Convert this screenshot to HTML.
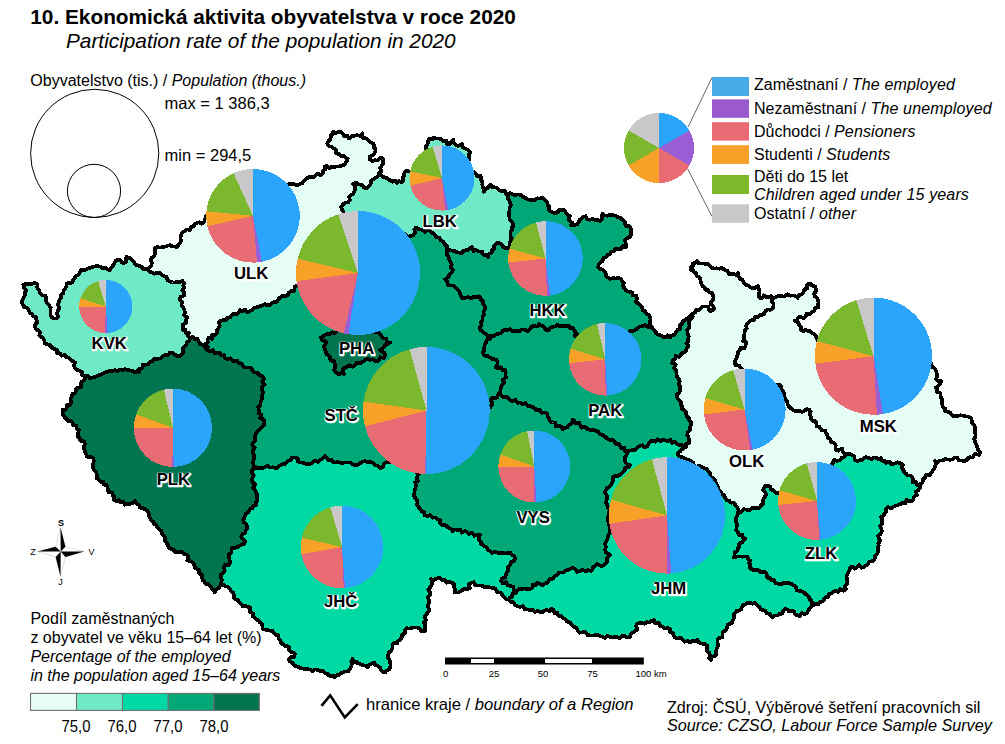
<!DOCTYPE html>
<html><head><meta charset="utf-8">
<style>
html,body{margin:0;padding:0;background:#fff;}
body{width:1005px;height:744px;overflow:hidden;position:relative;font-family:"Liberation Sans",sans-serif;color:#000;}
svg{position:absolute;left:0;top:0;}
.t{position:absolute;white-space:nowrap;line-height:1;}
svg text{font-family:"Liberation Sans",sans-serif;}
.lab text{font-weight:bold;font-size:16.7px;text-anchor:middle;fill:#000;}
.lab text.h{fill:#fff;stroke:#fff;stroke-width:2.6px;stroke-linejoin:round;}
.lg i{letter-spacing:0.15px;}
</style></head><body>
<svg width="1005" height="744" viewBox="0 0 1005 744">
<g id="map">
<path d="M85 376 L82.3 375.5 L82 372.1 L79.9 370.8 L77.5 370 L75.1 368.5 L74 366 L75 362.5 L72.8 361.1 L70.5 359.9 L68.7 357.9 L66.2 357 L64.7 355 L61.5 355.8 L60.2 353.4 L57.2 353.2 L56.9 349.5 L54.2 348.9 L51.8 347.6 L50.2 345.2 L47.4 344.4 L44.6 343.6 L44.3 340.8 L43.5 338.3 L41.4 336.9 L39.3 335.5 L40 332.2 L38.5 330.4 L36.1 329.3 L35 326.5 L35.5 324 L37.6 321.8 L36.4 319.9 L36.2 317.2 L33.3 316.5 L32.3 314.4 L29.8 312.7 L28.6 310 L27 307.6 L24.1 307 L22.9 304.7 L21.8 302.3 L22.6 299.9 L23.8 297.8 L24.8 295.5 L24.7 292.6 L26.3 290.2 L24 288 L23.3 284.9 L25.4 283.7 L27.8 284.3 L30 284.2 L32.6 283.6 L35.1 282.8 L37.6 284.5 L37.2 287.6 L39.1 290.2 L39.7 292.1 L40.6 293.9 L42.3 295.6 L45.2 295.5 L46.6 297.7 L45.8 300.7 L47 303.1 L48.9 305.2 L50.7 307.5 L50.5 310.2 L50.4 312.8 L50.4 315.3 L51.9 317.3 L54 318.6 L56.4 318.5 L58.2 316.3 L56.9 313.7 L57.5 311.3 L58.9 309.2 L58.7 306.8 L57.7 304.4 L58.7 302.2 L59.7 299.8 L61.4 297.6 L60.9 294.7 L63.2 293.3 L63.6 290.6 L65.1 288.6 L66.2 286.4 L66.9 283.7 L69 282.7 L72 282.7 L73 280.4 L74.6 278.4 L75.7 276.1 L78.3 275.1 L79.9 272.5 L81.3 269.8 L83.9 270 L86.4 269.4 L88.8 268.3 L91.5 267.2 L94.3 266.6 L97.1 266.1 L99.9 266.6 L102.5 268 L105.4 267.6 L107.6 269.2 L109.9 270.6 L111.1 267.9 L112.9 265.6 L114.4 263.1 L115.7 260.7 L117.7 259.7 L120.4 260.1 L121.4 262.1 L123.4 263.1 L125.9 261.8 L125.7 259.2 L126.4 257 L128.5 257.8 L130.8 258.3 L132.1 260.5 L134 261.6 L135 264.4 L137.4 265.3 L140 266.1 L141.9 267.2 L143.5 269.1 L146 269 L148.2 270.1 L150.1 271.8 L152.5 272.5 L154.6 273.7 L157.5 272.7 L159.9 273 L161.8 274.9 L164 276 L166.6 277 L167.6 280.1 L170 281.4 L172.5 282.5 L175.1 282.5 L177.5 281.9 L180.1 281.9 L182.5 281 L184 283.1 L183.3 285.6 L184.5 287.8 L182.3 290.4 L184 292.5 L184 295.7 L180.4 297 L180 300 L182.3 302 L181.4 305.2 L183.5 307.3 L184.3 309.9 L185 312.5 L184.2 315.2 L187.3 317.3 L186 320 L186.5 323 L182.9 324.5 L183.3 327.5 L182.5 330 L185.2 329.5 L186.2 333.2 L189 332.5 L188 335.5 L190 338 L189.4 340.7 L186.8 342.4 L186 345 L184.3 346.9 L182.6 348.8 L183.3 352.1 L182 354.2 L180 356 L177 355.9 L174.6 354.5 L172.5 352.5 L169.7 352.6 L167.9 355.4 L165 355 L162.9 355.9 L161.3 357.9 L159.1 358.6 L156.8 359.2 L154.1 359 L152.5 361 L149.9 361.7 L148.1 364.5 L145.3 364.7 L142.5 365 L142.4 367.9 L139 369.1 L139 372 L136.9 371.2 L135 372.5 L132.7 371 L130.2 370.4 L127.7 370.2 L125.3 369 L122.5 370 L119.9 369.4 L117.6 371.5 L114.8 369.9 L112.5 371.5 L109.9 370.9 L107.5 371.9 L105 372.5 L102.6 373.7 L100.2 374.9 L97.6 375.7 L95.2 377.1 L92.5 377.5 L89.7 378.3 L87.7 375.4 L85 376Z" fill="#70eac6"/>
<path d="M146 269 L149.1 268.1 L151.1 266.1 L152 263 L151 260.2 L151.6 257.7 L154.6 255.7 L154.8 253.2 L155.1 250.6 L155 248 L157.3 247 L159.9 247.6 L162.3 247.2 L164.6 246.7 L167 246 L169.6 245.1 L172 246.3 L174.5 246.4 L177 247 L178.5 244.9 L180.3 242.9 L180.9 240.5 L180.5 237.7 L181 235.3 L182 233 L184.4 231.3 L186.8 229.5 L190 230 L190.6 227.1 L193.4 226.4 L194.8 224.3 L197 223 L199.3 222.3 L201.9 223.7 L204 222 L204.7 220 L205.5 218.1 L206 216 L207.9 214.2 L209.8 212.5 L212.5 212.5 L215 212 L215.9 209.4 L218.5 208.5 L221.4 207.9 L222 205 L224.4 204.7 L225.9 202.3 L229 203.7 L231 202.6 L233.1 201.6 L235 200 L238 200.5 L240.5 199.3 L243.1 198.5 L245.3 196.3 L248 196 L250.8 196.9 L253.1 196.2 L254.7 192.9 L257.6 194.2 L259.9 193.4 L262 192 L264.6 191.3 L267.2 190.9 L269.8 190.2 L272.7 191 L275 189 L277.3 188.2 L280 188.4 L281.8 186 L284.8 186.9 L287.1 186.1 L289 184 L291.8 183.9 L294.5 184.2 L297.2 185.4 L300 184 L302.5 183 L304 180.8 L306 179.3 L308.1 177.5 L310.6 176.9 L313.5 177.2 L315.7 175.6 L317.8 173.7 L321 175.3 L323 173.2 L322.8 170.8 L325.5 169.2 L324.8 166.6 L327 166 L329.2 168.2 L331.4 166.6 L333.8 167.3 L336.3 166.6 L338.7 166.6 L340.7 165.8 L342.9 165.4 L344.7 164.1 L346.5 161.5 L347.8 158.7 L345.3 157.7 L343.5 155.7 L340.8 155.8 L338.7 154.1 L336.3 153.3 L336.4 150.2 L333.9 148.4 L331.6 146.8 L329 146 L327.3 143.8 L328.4 141.2 L330.6 138.9 L330.8 135.7 L332.7 134 L333.3 131.5 L335.2 133.2 L337.5 132.1 L340.5 132 L342.9 133.9 L344.2 136 L347.5 135.5 L348.4 138.1 L350.6 137.8 L352.1 135.8 L354.4 135.7 L357.5 135.1 L360.5 136.3 L362.3 133.3 L361.7 136 L363.5 138.1 L366.9 138.5 L368.9 141.2 L371.3 142.8 L373.8 144.2 L373.6 147 L375.6 149 L375.4 151.4 L374.5 153.5 L372.6 155.1 L370 156.4 L369.5 159.3 L372.6 161.1 L374.5 160.2 L376.8 160.6 L378.6 159.3 L380.5 157.4 L382.8 158.7 L382.9 161.2 L383.1 163.7 L381.6 165.9 L380.2 168.1 L381.3 171.2 L379.2 173.2 L378.6 175.6 L377.1 177.2 L375 178 L373.2 179.3 L371.3 180.5 L370.7 183.3 L369.5 185.9 L367.8 187.3 L365.9 188.3 L363.9 187.4 L362.6 185.5 L360.5 184.7 L358.3 184.5 L356.8 182.9 L354.9 183.1 L353.2 184.1 L355.4 185.6 L355 187.9 L355 190.1 L354 192.1 L353.1 194.2 L350.8 195 L349.2 197.1 L349.8 200 L348.4 202.2 L345.3 202.5 L342.9 204.6 L341.1 207.1 L342.3 210 L343.8 212.3 L342.4 215.3 L343.3 217.8 L345 220 L346.3 222.4 L349.7 222.9 L350.4 225.9 L352 228 L349.2 228.7 L348.4 231.4 L346.4 232.9 L345 235 L344.1 237.8 L340.8 238.3 L340.2 241.4 L337 242 L335 243.7 L333.4 245.9 L333 249.2 L330 250 L327.6 251.3 L327 254 L325.2 255.8 L324.1 258.1 L323.4 260.7 L320.9 261.9 L318.3 263.1 L317 265.2 L315.4 267.2 L315 270 L314.1 272.8 L311.2 273.7 L308.9 275.1 L308 278 L306.1 279.8 L304.8 282.3 L301.1 282.3 L300 285 L297.1 285.5 L294.7 286.6 L294.3 290.8 L291.2 291 L289 292.5 L287.6 295.2 L285.1 296.1 L282.1 296 L280 297.5 L278.3 299.4 L276.9 301.7 L274.1 302.2 L271.7 303.1 L270 305 L267.5 305.5 L264.9 304.1 L262.5 305.5 L260 306 L257.4 307.1 L254.6 307.7 L252.5 309.8 L250 311 L247.4 312.2 L245.1 309.6 L242.4 311.3 L240 310 L238.8 312.5 L236.7 314 L233.4 313.8 L231.5 315.4 L230 317.5 L227.5 317.8 L225.9 320.1 L223.2 320 L220.8 320.7 L219 322.5 L219.8 325.5 L218.6 327.9 L217.2 330.2 L217 332.9 L215 335 L212.2 334.9 L212.2 338.9 L208.7 337.8 L207.5 340 L207.9 342.4 L205.1 344.2 L207.9 347 L206 349 L204.9 346.5 L203.2 344.5 L199.8 344 L198.8 341.3 L197.5 339 L194.9 339.3 L192.7 337 L190 338 L188 335.5 L189 332.5 L186.2 333.2 L185.2 329.5 L182.5 330 L183.3 327.5 L182.9 324.5 L186.5 323 L186 320 L187.3 317.3 L184.2 315.2 L185 312.5 L184.3 309.9 L183.5 307.3 L181.4 305.2 L182.3 302 L180 300 L180.4 297 L184 295.7 L184 292.5 L182.3 290.4 L184.5 287.8 L183.3 285.6 L184 283.1 L182.5 281 L180.1 281.9 L177.5 281.9 L175.1 282.5 L172.5 282.5 L170 281.4 L167.6 280.1 L166.6 277 L164 276 L161.8 274.9 L159.9 273 L157.5 272.7 L154.6 273.7 L152.5 272.5 L150.1 271.8 L148.2 270.1 L146 269Z" fill="#e6fdf5"/>
<path d="M378.6 175.6 L380.9 175.3 L382.6 176.9 L384.6 177.4 L386.8 178 L388.5 179.8 L390.7 180.5 L392.5 181.7 L395.2 180.7 L396.7 182.9 L398.9 181 L401.6 182.3 L403.5 180.5 L402.4 177.6 L404 175.6 L404.4 172.8 L406.4 170.8 L409.4 171.4 L412.6 171.5 L414.2 168.6 L417.2 168.3 L419 166 L420.1 164 L421.8 162.2 L421.6 159.4 L424.2 158.2 L425 156 L426.4 153.8 L425.5 151.3 L426.4 149 L425.8 146.6 L427.5 144 L428.2 141 L429.4 138.6 L432.4 139.6 L433.9 137.7 L436.2 138.4 L438.7 138.5 L441.4 139.2 L443.5 141 L446.4 140.6 L447.3 144.2 L450 144.2 L451.5 141.7 L453.2 139.4 L453.7 142.5 L455.6 145 L457.9 146 L460 145.2 L462.1 144.2 L463 147.5 L466.1 149 L468.4 150.4 L470.2 152.3 L468.8 155 L469.4 157.9 L468.8 160 L466.4 161.4 L467 164 L466.4 166.7 L469.6 168.3 L469 171 L471.8 170.9 L473.9 172.1 L475.8 174 L477.7 176.3 L480.6 175.6 L481.2 177.8 L481 180.1 L482.5 182.1 L482.3 184.5 L482.8 186.9 L483.7 189.3 L483.9 191.8 L485.1 189.6 L487.3 188.3 L488.9 186.5 L490.3 184.5 L491.9 186.8 L494.4 187.2 L496.8 187.7 L498.9 190.1 L501.7 191 L504.8 191 L506 194 L508 195.7 L507.5 198.5 L509.5 200.1 L510 202.5 L510.8 205.1 L509.6 207.5 L509.4 210 L509.3 212.5 L509 215 L509.5 217.5 L509.8 220 L511.7 221.6 L512.9 223.6 L513.4 226 L511.8 227.7 L511.9 230.3 L510.4 232.1 L510.4 234.6 L510.7 237.1 L512.2 239.3 L510.4 241.2 L509.5 243.4 L510.4 246 L509.5 247.9 L507.4 248.4 L504.6 248 L502.6 246 L500.6 243.6 L497.7 242.4 L495.7 244 L494.1 246 L494.3 248.5 L491.9 250.2 L491.7 252.6 L488.9 253.9 L488 256.9 L486.7 255 L484.4 255.1 L482.4 253.8 L482 251.4 L478.9 251.5 L476 250.2 L473.4 251 L472.5 247.1 L469.9 247.8 L468.6 249.8 L466.3 250.2 L463.4 251.1 L461.4 253.3 L459 252.5 L456.6 252 L454.7 251.1 L452.6 250.7 L450.6 250.2 L447 249.5 L447 246.2 L444.5 244.2 L443.4 241.8 L440.9 240.4 L439.7 238.1 L436.5 237.3 L434.8 234.5 L432.3 232.9 L430 231 L427.6 229.7 L424.8 231.9 L422.5 230 L420.3 229.4 L417.9 229 L416 227.5 L414.3 229.8 L415 232.5 L413.2 235.3 L410 236 L407.4 236.9 L405.1 234.3 L402.4 237.3 L400 235.2 L397.4 236.9 L394.9 236.4 L392.5 234.5 L390 235 L387.5 234.6 L385.1 233.4 L382.4 234.7 L380.1 233.1 L377.7 231.5 L375.2 231.4 L372.4 232.9 L370 232 L367.3 232.1 L364.7 231.7 L362.4 229.6 L359.4 231.2 L356.9 230.2 L354.6 228.6 L352 228 L350.4 225.9 L349.7 222.9 L346.3 222.4 L345 220 L343.3 217.8 L342.4 215.3 L343.8 212.3 L342.3 210 L341.1 207.1 L342.9 204.6 L345.3 202.5 L348.4 202.2 L349.8 200 L349.2 197.1 L350.8 195 L353.1 194.2 L354 192.1 L355 190.1 L355 187.9 L355.4 185.6 L353.2 184.1 L354.9 183.1 L356.8 182.9 L358.3 184.5 L360.5 184.7 L362.6 185.5 L363.9 187.4 L365.9 188.3 L367.8 187.3 L369.5 185.9 L370.7 183.3 L371.3 180.5 L373.2 179.3 L375 178 L377.1 177.2 L378.6 175.6Z" fill="#70eac6"/>
<path d="M506 194 L508.3 193.4 L510.6 193.2 L512.8 194.4 L515 195 L517.8 194.5 L520.4 194.8 L522.6 196.6 L525 197.5 L527.2 199.5 L529.8 199.7 L532.3 200.2 L535 200 L537.2 198.3 L540 198.5 L542.5 197.5 L544.4 199 L545.9 200.6 L547.4 202.4 L547.5 205 L549.6 206.3 L548.8 209.6 L550.3 211.2 L552.5 212.5 L555 213 L557.3 212.5 L559.2 210 L561.6 209.9 L564 210 L565.7 212.3 L567.4 214.6 L570 216 L569.1 218.4 L569.2 220.6 L572.1 222.6 L571 225 L573.2 225 L575.4 224.9 L577.5 224 L578.9 222.3 L579.4 219.8 L581.6 218.7 L583 217 L585.7 216.1 L587.4 219.4 L589.9 219.7 L592.5 219 L595 219.8 L597.7 219.7 L600 221 L602.1 219.1 L601.9 216.4 L602.5 214 L604.9 215.5 L607.4 215.7 L610 214.8 L612.5 215 L615.1 215.6 L617.4 217 L620 217.5 L621.8 219.3 L624 220.6 L625.2 222.9 L625.5 225.9 L629.1 226.2 L630.6 228.1 L631 231 L630.6 233 L631 235 L629.5 237.2 L626.9 238.2 L625 240 L625.4 242.5 L626.2 244.9 L626 247.5 L623 246.2 L620.6 249.3 L617.8 248.9 L615 249 L613.8 251.3 L611 251.6 L609.9 254.1 L607.5 255 L606.2 257.1 L603.5 258 L602.8 260.8 L600.6 262.1 L599 264 L598.2 266.8 L600 269 L602.6 269.7 L604.4 271.3 L605.7 273.3 L606 276.3 L608.1 277.6 L610 279 L612.8 278.1 L615.5 278.4 L618.2 277.9 L621 279 L621.9 281.1 L624 282.7 L622.6 285.6 L624 287.5 L625.4 289.9 L627.5 291.3 L630 291.9 L632.5 292.5 L632.4 295.4 L636.4 295.8 L636.9 298.4 L636.1 301.6 L637.9 303.4 L640 305 L642 306.8 L642.5 310 L645.1 311.3 L646.4 313.7 L649 315 L649.9 317.2 L650.5 319.4 L649.9 321.7 L650 324 L651 326 L648.3 327.6 L645.4 325.1 L642.7 326.1 L640 326.5 L637.6 328.2 L635.2 329.9 L632.5 331 L629.4 331.3 L627.4 333.5 L625 335 L622.6 335.8 L620.1 336.5 L617.3 335.3 L614.9 336.3 L612.6 338 L610 338 L607.7 336 L605.1 336.4 L602.6 335.9 L599.8 337.7 L597.4 336.8 L595.2 334.1 L592.7 334.1 L590 335 L587.4 334 L585 336 L582.5 334.8 L580 336.3 L577.4 334.8 L575 336 L575.9 332.8 L574 330 L572.7 327.6 L569.9 328.2 L568.6 325.7 L566 326 L563.2 325.6 L560.2 326.4 L557.5 325 L555.4 326.4 L552.8 326.8 L550.4 327.5 L548.9 330.3 L546 330 L544.7 328 L543.1 326.2 L540.9 325.4 L539 324 L537.5 326.6 L534.2 326 L531.6 326.6 L530 329 L527.8 331.1 L524.9 329.7 L522.3 329.4 L520 331 L517.5 330.7 L514.8 331.2 L512.2 330.9 L510 329 L507.6 330.1 L504.8 329.5 L502.5 331 L500.7 333.3 L498.3 333.8 L495.9 334.6 L493.8 336.3 L491 336 L487.9 336.4 L486 334 L483.8 333 L482.2 331.5 L480.5 330.1 L480 327.5 L481.5 325.2 L481.1 322.3 L482.7 320.1 L482.4 317.2 L484 315 L483.4 312.4 L484.4 310 L485.5 307.6 L484.1 305.5 L482.5 303.4 L483.2 301 L481 300 L480.3 297.5 L478.4 296.2 L476 297.1 L473.2 296.8 L471.1 298.6 L468.3 297.1 L465.4 297.6 L462.6 298.6 L461.2 296.3 L460.2 293.8 L459.1 291.4 L457.5 289.4 L455.4 287.7 L453.4 285.6 L450.8 285.4 L448.1 285.3 L447.6 283 L446.8 280.9 L445.1 279.3 L447.1 278.2 L448.8 276.8 L449.3 274.4 L451.7 272.4 L453 269.6 L450.6 267.7 L451.7 264.6 L450.6 262.3 L449.7 260.3 L448.9 258.3 L448.1 256.3 L446.8 254.2 L446.8 251.9 L447 249.5 L450.6 250.2 L452.6 250.7 L454.7 251.1 L456.6 252 L459 252.5 L461.4 253.3 L463.4 251.1 L466.3 250.2 L468.6 249.8 L469.9 247.8 L472.5 247.1 L473.4 251 L476 250.2 L478.9 251.5 L482 251.4 L482.4 253.8 L484.4 255.1 L486.7 255 L488 256.9 L488.9 253.9 L491.7 252.6 L491.9 250.2 L494.3 248.5 L494.1 246 L495.7 244 L497.7 242.4 L500.6 243.6 L502.6 246 L504.6 248 L507.4 248.4 L509.5 247.9 L510.4 246 L509.5 243.4 L510.4 241.2 L512.2 239.3 L510.7 237.1 L510.4 234.6 L510.4 232.1 L511.9 230.3 L511.8 227.7 L513.4 226 L512.9 223.6 L511.7 221.6 L509.8 220 L509.5 217.5 L509 215 L509.3 212.5 L509.4 210 L509.6 207.5 L510.8 205.1 L510 202.5 L509.5 200.1 L507.5 198.5 L508 195.7 L506 194Z" fill="#00a878"/>
<path d="M651 326 L652.5 328.1 L654 330.2 L655.7 332.1 L657.1 334.3 L660 335 L662.3 336.4 L664.7 337.6 L667.9 335.3 L670 337.5 L671.8 335.5 L674.8 334.8 L676 332.2 L677.5 330 L680.1 328.8 L679.4 325.2 L681.9 323.9 L682.8 321.5 L685 320 L687.1 318.4 L689.2 316.9 L691 315 L692.5 314 L692.7 316.6 L691.7 318.6 L689.6 320.1 L688.7 322.4 L689.5 325.1 L689 327.5 L687.2 329.6 L687.5 332 L687.9 334.4 L688.8 336.7 L688 339.2 L688.1 341.4 L686.3 343.5 L688.5 345.9 L687 348 L686.1 350.4 L684.8 352.5 L682 353 L680.7 355.1 L679.2 356.9 L675.6 355.9 L675.2 359.1 L673 360 L672.2 363 L675.7 364.6 L673.9 367.9 L676 370 L676.6 372.4 L676.5 374.9 L677.2 377.2 L679 379.2 L679.7 381.6 L678.8 384.3 L680 386.5 L680.2 389.6 L679.5 392.4 L677 394.5 L677.1 397.3 L678.6 399.5 L680.8 401.4 L680.9 404.2 L682 406.6 L681.8 409.2 L684.7 410.3 L686.1 412.1 L686.3 414.6 L687 416.7 L689 418.2 L689.4 420.6 L691.4 422.1 L691 424.8 L689.7 427.3 L690.2 430 L687.8 431.8 L687.2 434.8 L688.2 436.7 L688.8 438.7 L689 440.9 L688.7 443.3 L685.6 444.3 L686 447 L683.6 447.6 L682 444.6 L679.5 445.5 L676.9 444 L674.5 442 L672.1 443.1 L670.4 439.9 L668 441 L665.3 440.5 L662.5 440 L660.3 441.6 L657.8 439.3 L655.7 441.7 L653.3 440.4 L651 441 L648.8 443.2 L647.5 446 L645.2 447.5 L642.3 445.3 L639.8 446.1 L637.5 447.5 L635.7 449.8 L633 449.9 L630.5 450.6 L628 451 L625.2 451 L624.4 447.8 L621.3 448.3 L620 446 L618.8 443.7 L615.5 443.9 L614.5 441.3 L612.5 440 L609.5 439.8 L607 438.5 L604.9 436.4 L602.5 435 L599.9 434.3 L598.1 431.4 L595.6 430.6 L593 429.8 L590 430 L587.4 428.9 L585.3 426.9 L581.8 427.7 L580 425 L579 422.4 L575.6 423.4 L574.6 420.9 L572.5 420 L572 423.4 L569 425 L567.4 427.3 L564.8 427.9 L562.5 429 L561.2 426.6 L559 425.6 L555.7 426.3 L555.4 422.5 L552.5 422.5 L549.9 421.2 L549.2 418.7 L547.7 416.7 L547.5 414 L545.1 412.4 L541.7 412.8 L540 410 L536.9 410.4 L534.8 408.4 L532.5 407 L530 406 L527.3 405.7 L525.5 402.8 L522.2 404.2 L520 402.5 L517.3 402.8 L515.4 399.8 L512.4 401 L510 400 L508.2 397.9 L506 396.6 L502.8 397 L501 395 L500 392.5 L500.6 389.9 L500.8 387 L502.2 384.7 L504 382.5 L502.5 379.9 L506 377.6 L505.5 375.1 L505.7 372.6 L505 370 L502.5 370.3 L500.9 367.3 L498.2 368.4 L496 367.5 L497.2 365.1 L497.5 362.5 L496.6 359.8 L494.2 359.3 L491.9 358.8 L490 357.5 L488.1 356.3 L485.7 355.9 L483.8 354.6 L482.5 352.5 L484.3 350.3 L484.3 347.5 L484.7 344.8 L486 342.5 L487.2 339.9 L490.2 338.9 L491 336 L493.8 336.3 L495.9 334.6 L498.3 333.8 L500.7 333.3 L502.5 331 L504.8 329.5 L507.6 330.1 L510 329 L512.2 330.9 L514.8 331.2 L517.5 330.7 L520 331 L522.3 329.4 L524.9 329.7 L527.8 331.1 L530 329 L531.6 326.6 L534.2 326 L537.5 326.6 L539 324 L540.9 325.4 L543.1 326.2 L544.7 328 L546 330 L548.9 330.3 L550.4 327.5 L552.8 326.8 L555.4 326.4 L557.5 325 L560.2 326.4 L563.2 325.6 L566 326 L568.6 325.7 L569.9 328.2 L572.7 327.6 L574 330 L575.9 332.8 L575 336 L577.4 334.8 L580 336.3 L582.5 334.8 L585 336 L587.4 334 L590 335 L592.7 334.1 L595.2 334.1 L597.4 336.8 L599.8 337.7 L602.6 335.9 L605.1 336.4 L607.7 336 L610 338 L612.6 338 L614.9 336.3 L617.3 335.3 L620.1 336.5 L622.6 335.8 L625 335 L627.4 333.5 L629.4 331.3 L632.5 331 L635.2 329.9 L637.6 328.2 L640 326.5 L642.7 326.1 L645.4 325.1 L648.3 327.6 L651 326Z" fill="#00a878"/>
<path d="M692.5 314 L695 312.5 L696 309.7 L698.7 309.9 L700.7 308.1 L702.9 306.5 L705.5 306.5 L708.5 306.8 L708.8 310.1 L711 311.3 L712.5 310 L714.2 308.9 L713.3 306 L711 304.1 L711.4 301.3 L713.5 299.1 L713.4 296.2 L711.8 293 L709.4 292.6 L708.1 290 L705.5 289.8 L704.8 287.5 L702.6 286.2 L701.5 284.2 L700.8 281.8 L700.5 279.3 L699.1 277.1 L696.7 275.8 L695.9 273.1 L694.2 271.9 L692.8 270.1 L690.4 269.9 L690.4 267.5 L692.9 266 L692.7 263.5 L695 262.8 L696.7 261.1 L699 263.4 L702.3 263.5 L704.9 263.8 L707.5 263.8 L709.5 265.9 L711.5 267.7 L713.9 268.5 L716.6 268.3 L719.3 268.7 L722.2 268 L724.6 269.9 L727.4 270.7 L728.6 273.5 L731 274.7 L733.2 273.5 L736.1 275.1 L738.1 273.1 L738.6 276 L739.7 278.7 L742.4 279.9 L743.7 282.6 L745.5 284.6 L748.3 285.4 L750.1 287.4 L753 288.3 L755.6 287.7 L758 285.8 L758.8 288.6 L759.6 291.4 L758.7 294.1 L758.8 297 L761.2 298.6 L762.9 297.4 L763.6 295.4 L765.9 296.7 L768.2 297.5 L770.8 296.2 L771.5 298 L771.6 301 L773.5 303.5 L773.4 306.1 L772.4 308.9 L770.4 309.8 L768 309.4 L766 310.5 L764.6 313.1 L762.5 314.8 L759.6 315.3 L758.1 317.3 L755.2 317 L754.3 319.9 L751.7 320.1 L749.3 321.3 L747.6 323.4 L746.1 325.6 L746.7 328.5 L744.8 330.8 L744.5 333.4 L743.7 336 L744.5 338.2 L743.1 340.9 L746.6 342.4 L745.7 345 L744.7 348 L740.7 347.4 L739.8 350.5 L737.6 352 L737.8 354.8 L736.7 357.2 L735.8 359.6 L734.6 362 L735.5 365.2 L739.3 365.5 L740.6 368.3 L742.8 369.7 L743.3 372.4 L744.9 374.2 L745.3 377 L748 378 L749.6 380 L752.5 379.6 L754.8 380.1 L756 383 L757.9 384.5 L761.4 382.6 L762.5 385.7 L765 386 L767.5 387 L769.7 386 L771.9 384.2 L774.4 385.9 L776.8 385.4 L779 384.4 L781 386.3 L780.6 389.3 L782.9 391.1 L784.4 393.2 L784.5 395.9 L785 398.5 L786.5 400.3 L787.3 402.4 L787.6 404.8 L789 406.6 L791.1 408.7 L793.4 410.1 L795.9 411.1 L799 410.6 L801.7 412 L804.1 411.1 L806.4 409.2 L809 409.6 L810.7 411.5 L809.9 414.2 L810.8 416.3 L811 418.6 L812.2 420.7 L814.9 421.2 L816.4 423 L816.6 426.4 L819.3 426.8 L820.7 428.6 L822 430.5 L825.1 430.6 L825.9 433 L827.3 434.8 L828 437.7 L830.4 439.2 L831.2 442 L834.2 443 L835.8 445.2 L835.5 447.8 L836 450.2 L838.4 450.8 L840.4 449.2 L842.6 449 L842.7 451.6 L844.3 453.4 L845.5 455.5 L843.8 457.1 L841.5 458 L840.2 460 L837.2 460.8 L834.2 460 L833.1 461.9 L832.5 464 L830.8 465.8 L828.1 465.4 L825.9 466.2 L823.5 466.7 L821.7 468.2 L820 470 L818.5 472.3 L816.2 473.3 L813.3 472.9 L811.4 474.6 L808.7 474.5 L807.8 478 L805 478 L803.1 479.4 L801 480.5 L798.7 481.2 L796.8 482.8 L794.5 483.5 L792.6 484.9 L790 485 L787.2 485 L785.3 486.5 L784.3 489.1 L782.6 490.8 L781.3 493 L778.5 493 L776 493.2 L774.7 491.3 L773 490 L770.6 489.6 L770.4 486.4 L768 486 L765.4 485.7 L764 488 L763.1 490.5 L765.7 493 L765.7 495.5 L764 498 L762.6 500.4 L763 503.7 L760.7 505.7 L759 508 L756.5 508.1 L754.1 508 L751.6 508.2 L749.5 510.1 L747 510 L744.2 509.2 L742.3 510.8 L740.3 512.4 L738 513 L738.7 510.1 L737.4 507.4 L735.4 505.1 L733.8 502.6 L731 502.7 L729 500.6 L726.5 500.1 L725.1 498 L724.2 495.4 L721.7 494.1 L720.6 491.6 L718.5 489.6 L718 486.8 L717 484.6 L715.3 482.8 L714.9 480.2 L713.2 478.4 L710.2 476.9 L710.4 473.3 L708.4 471.1 L706.8 469.1 L704.4 468.5 L702.3 467.5 L699.9 465.7 L697 466.5 L694 466 L693.5 462.9 L691.4 461.4 L689.2 459.9 L686.6 459.4 L684.2 458.4 L682 456.8 L679.3 456.6 L677.6 454.8 L678.1 452.4 L679.9 451.6 L681 450 L683.4 448.4 L686 447 L685.6 444.3 L688.7 443.3 L689 440.9 L688.8 438.7 L688.2 436.7 L687.2 434.8 L687.8 431.8 L690.2 430 L689.7 427.3 L691 424.8 L691.4 422.1 L689.4 420.6 L689 418.2 L687 416.7 L686.3 414.6 L686.1 412.1 L684.7 410.3 L681.8 409.2 L682 406.6 L680.9 404.2 L680.8 401.4 L678.6 399.5 L677.1 397.3 L677 394.5 L679.5 392.4 L680.2 389.6 L680 386.5 L678.8 384.3 L679.7 381.6 L679 379.2 L677.2 377.2 L676.5 374.9 L676.6 372.4 L676 370 L673.9 367.9 L675.7 364.6 L672.2 363 L673 360 L675.2 359.1 L675.6 355.9 L679.2 356.9 L680.7 355.1 L682 353 L684.8 352.5 L686.1 350.4 L687 348 L688.5 345.9 L686.3 343.5 L688.1 341.4 L688 339.2 L688.8 336.7 L687.9 334.4 L687.5 332 L687.2 329.6 L689 327.5 L689.5 325.1 L688.7 322.4 L689.6 320.1 L691.7 318.6 L692.7 316.6 L692.5 314Z" fill="#e6fdf5"/>
<path d="M771.5 298 L774 297.8 L776.5 296.7 L779 295.6 L781.9 296.2 L784.7 296.5 L787.4 294.3 L790.3 295.7 L793.1 295.4 L795.7 296.2 L797.8 297.8 L798.7 295.1 L801.5 294.6 L803.4 293 L804.2 289.6 L807.4 288.2 L807.2 286.2 L807.4 284.2 L810.3 283.6 L812.2 285.8 L815 286.3 L816.1 289 L815.9 291.5 L814 293.6 L814.6 296.2 L817 297.6 L818 299.9 L818.5 302.5 L818.1 304.9 L818.5 307.3 L815.2 308.1 L813.8 311.3 L811.7 312.3 L810 314 L807 313.5 L805.8 316.1 L803.6 318.4 L800.1 316.5 L797.8 318.5 L796.6 320.3 L794.6 320.9 L797 321.6 L798.7 323.1 L799.4 325.6 L801.3 327.1 L801.2 330 L803.4 331.2 L805.4 329.9 L807.7 330.9 L809.8 330.4 L811.9 332.8 L814.6 334.4 L816 336.1 L816.4 338.2 L817.5 340 L819.4 337.6 L821.9 336.6 L824.6 336.1 L827.7 336.6 L830 335 L832.1 333.7 L834.2 332.2 L836.8 331.9 L838.8 330.4 L840.8 328.8 L843.8 329.2 L845.9 327.8 L847.4 325.3 L850 325 L852.4 325.9 L855 326.3 L857.2 328.1 L859.8 328.3 L862.7 327.4 L864.6 330.3 L867.8 328.1 L870 330 L872.4 329.1 L875.2 329.6 L877.2 327 L880 327.5 L882.1 325.4 L885.1 326.8 L887.7 326.5 L890 325 L891.7 327.1 L892.8 329.7 L896.1 330.2 L897 333 L899.1 334.6 L901.1 336.4 L903.2 338 L905 340 L906.5 342.4 L908.4 344.1 L911.5 344.2 L913.3 346.2 L916.5 345.9 L917.5 349.1 L920 350 L921 352.3 L921.4 354.9 L923.2 356.6 L926.1 357.6 L927.2 359.8 L927.8 362.3 L931 363.1 L931 366 L933.1 367.4 L935 369 L936.4 371.4 L936.8 373.9 L937.2 376.4 L936 379 L938.2 380.8 L941 381 L940.3 383.9 L938.3 385.9 L936 387.5 L937.4 389.4 L937 392.2 L940.5 393.1 L940.5 395.8 L941.3 398 L942.5 400 L941.7 402.5 L942.4 404.6 L942.8 406.9 L945.2 408.6 L945 411 L947.6 411.7 L950.2 412.6 L952 415.2 L954.4 416.4 L957.5 416 L960.4 415.2 L963.1 415.7 L965.7 416.3 L968.4 416.7 L971 418 L971.7 420.4 L972 422.9 L973.8 425 L975.3 427.2 L974.6 430 L975 432.5 L975.6 434.8 L975.2 437.1 L974.1 439.5 L975.2 441.8 L976 444 L977 446.1 L977.6 448.4 L978.5 450.6 L980 452.5 L979 455 L975.5 453.9 L973.8 455.5 L972.5 457.5 L969.9 457.2 L967.9 458.3 L966.3 460.5 L964 461 L961.6 460.4 L959 460.5 L957.4 457.9 L955 457.5 L952.7 459.3 L950.2 459.7 L947.6 459.6 L945 459 L942.7 460.6 L940.1 460.5 L937.8 462 L935 461 L936 463.9 L934.9 466.3 L934.4 468.8 L932.5 471 L930.9 473 L929.8 475.5 L926 474.9 L925 477.5 L923 479.4 L922.6 482.6 L920 484 L917.2 485 L915.5 481.6 L912.8 482.3 L913.3 479.6 L912.2 477.5 L910.4 475.6 L907.6 475.3 L906 473.5 L904.2 472 L903.1 469.6 L901.6 467.9 L903.1 464.9 L900.7 463.5 L897.7 462.2 L894.6 463.5 L891.7 464.2 L889.1 461.4 L886.2 462.9 L884.9 461 L882 460.6 L881.3 458.1 L878.8 459.4 L876.5 457.8 L874.1 457.5 L871.5 459 L868.7 458.1 L865.8 457 L863.2 458.7 L861.5 460.2 L859.2 460.3 L857.2 461.1 L854.5 459.9 L854.5 456.6 L852.3 455 L850 454.2 L847.7 453.9 L845.5 455.5 L844.3 453.4 L842.7 451.6 L842.6 449 L840.4 449.2 L838.4 450.8 L836 450.2 L835.5 447.8 L835.8 445.2 L834.2 443 L831.2 442 L830.4 439.2 L828 437.7 L827.3 434.8 L825.9 433 L825.1 430.6 L822 430.5 L820.7 428.6 L819.3 426.8 L816.6 426.4 L816.4 423 L814.9 421.2 L812.2 420.7 L811 418.6 L810.8 416.3 L809.9 414.2 L810.7 411.5 L809 409.6 L806.4 409.2 L804.1 411.1 L801.7 412 L799 410.6 L795.9 411.1 L793.4 410.1 L791.1 408.7 L789 406.6 L787.6 404.8 L787.3 402.4 L786.5 400.3 L785 398.5 L784.5 395.9 L784.4 393.2 L782.9 391.1 L780.6 389.3 L781 386.3 L779 384.4 L776.8 385.4 L774.4 385.9 L771.9 384.2 L769.7 386 L767.5 387 L765 386 L762.5 385.7 L761.4 382.6 L757.9 384.5 L756 383 L754.8 380.1 L752.5 379.6 L749.6 380 L748 378 L745.3 377 L744.9 374.2 L743.3 372.4 L742.8 369.7 L740.6 368.3 L739.3 365.5 L735.5 365.2 L734.6 362 L735.8 359.6 L736.7 357.2 L737.8 354.8 L737.6 352 L739.8 350.5 L740.7 347.4 L744.7 348 L745.7 345 L746.6 342.4 L743.1 340.9 L744.5 338.2 L743.7 336 L744.5 333.4 L744.8 330.8 L746.7 328.5 L746.1 325.6 L747.6 323.4 L749.3 321.3 L751.7 320.1 L754.3 319.9 L755.2 317 L758.1 317.3 L759.6 315.3 L762.5 314.8 L764.6 313.1 L766 310.5 L768 309.4 L770.4 309.8 L772.4 308.9 L773.4 306.1 L773.5 303.5 L771.6 301 L771.5 298Z" fill="#e6fdf5"/>
<path d="M920 484 L920.2 487.2 L918.5 490 L915.9 491.5 L917.1 495.1 L914.1 496.4 L913.5 499 L911.8 501.1 L909.5 501.5 L906.4 499.9 L905.2 503.3 L902.5 502.7 L900.5 504 L898.1 505 L895.7 505.8 L893.3 506.5 L891.2 508.3 L888.1 507.1 L886 509 L885.9 511.7 L884.3 513.5 L883.6 515.9 L881 517 L882.1 519.2 L882 521.6 L882 524 L880.2 526.1 L881.4 528.9 L881.8 531.5 L880.8 533.8 L877.9 535.7 L879 538.5 L880.3 541 L878.2 543.3 L878.8 545.7 L877.7 548.1 L878 550.5 L877.5 553.2 L875.4 555.3 L875 558 L874 560.5 L871.7 561.3 L869.3 561.8 L867.9 564 L866 565.5 L863.9 567.1 L861.7 567.8 L858.9 565.3 L856.9 567.3 L854.8 568.7 L852 566.6 L850 568.5 L849 571.1 L847.8 573.5 L846.5 576 L847 579 L847.5 581.6 L847 584 L845 586.4 L846 589 L843.5 590.7 L840.3 589.1 L838 591.8 L835 591 L832.8 592 L831.1 593.5 L828.8 594.3 L828 597 L825.4 597.3 L824 599.5 L822.5 601.6 L820 602 L818.4 604.1 L815.8 603.9 L813.8 605 L811.7 606 L812.5 603.2 L811.5 600.9 L809.5 599 L808.7 596.3 L806.4 594.8 L804.5 593 L802.1 591.4 L799.1 591.1 L796.5 590 L796.1 586.9 L793.8 585.5 L791.5 584 L789 583.1 L786.5 583.4 L784 582.7 L781.5 584 L778.6 583.8 L775.8 583.3 L774 580.1 L771 580 L770.2 577.9 L767.1 577.7 L767 575 L765.7 572.6 L763.6 571.6 L760.7 572.2 L759 570.5 L756.7 569.9 L754 570.4 L751.9 569.4 L750 567.5 L750.3 565.2 L749.2 562.8 L750 560.5 L748.1 559.5 L747.6 556.6 L745 556.5 L742.2 556.7 L739.4 556.4 L736.7 556.6 L734 557.5 L734.6 555.1 L734.6 552.5 L737.2 551 L737.9 548.7 L739 546.5 L739.2 543.5 L742 542.5 L743.2 540.3 L745 538.5 L742.9 537.4 L742.2 534.7 L738.8 535.1 L738 532.5 L736.2 530.1 L736.5 527.3 L737.2 524.5 L736 522 L735.4 519.5 L736.6 517.4 L737.3 515.2 L738 513 L740.3 512.4 L742.3 510.8 L744.2 509.2 L747 510 L749.5 510.1 L751.6 508.2 L754.1 508 L756.5 508.1 L759 508 L760.7 505.7 L763 503.7 L762.6 500.4 L764 498 L765.7 495.5 L765.7 493 L763.1 490.5 L764 488 L765.4 485.7 L768 486 L770.4 486.4 L770.6 489.6 L773 490 L774.7 491.3 L776 493.2 L778.5 493 L781.3 493 L782.6 490.8 L784.3 489.1 L785.3 486.5 L787.2 485 L790 485 L792.6 484.9 L794.5 483.5 L796.8 482.8 L798.7 481.2 L801 480.5 L803.1 479.4 L805 478 L807.8 478 L808.7 474.5 L811.4 474.6 L813.3 472.9 L816.2 473.3 L818.5 472.3 L820 470 L821.7 468.2 L823.5 466.7 L825.9 466.2 L828.1 465.4 L830.8 465.8 L832.5 464 L833.1 461.9 L834.2 460 L837.2 460.8 L840.2 460 L841.5 458 L843.8 457.1 L845.5 455.5 L847.7 453.9 L850 454.2 L852.3 455 L854.5 456.6 L854.5 459.9 L857.2 461.1 L859.2 460.3 L861.5 460.2 L863.2 458.7 L865.8 457 L868.7 458.1 L871.5 459 L874.1 457.5 L876.5 457.8 L878.8 459.4 L881.3 458.1 L882 460.6 L884.9 461 L886.2 462.9 L889.1 461.4 L891.7 464.2 L894.6 463.5 L897.7 462.2 L900.7 463.5 L903.1 464.9 L901.6 467.9 L903.1 469.6 L904.2 472 L906 473.5 L907.6 475.3 L910.4 475.6 L912.2 477.5 L913.3 479.6 L912.8 482.3 L915.5 481.6 L917.2 485 L920 484Z" fill="#00d9a3"/>
<path d="M811.7 606 L810 608.1 L808.4 610.3 L807.2 612.8 L804.5 614 L801.7 613.1 L799.4 616.3 L796.5 615 L794.8 613.7 L794 611.3 L791.5 611 L789 611.7 L787.6 609.5 L785.5 609 L783.2 610.4 L782.5 613.5 L779.5 614 L777.3 615.4 L774.6 615.4 L772.5 617 L770.6 615.6 L769.5 613.4 L766.5 613.4 L765.5 611 L762.9 610.2 L760.5 609.1 L759.1 606.5 L757 605 L754.8 603.1 L752.1 603.7 L749.7 602.6 L747 603 L745.6 604.6 L743.1 605 L742 607 L741.1 609.5 L739 610.5 L736.4 611.1 L735 613 L733.6 615.1 L733.9 617.7 L733 620 L732.1 622.7 L729.9 623.9 L727.5 625 L727.1 627.9 L725.7 630.3 L722.8 632 L722.5 635 L722.1 637.4 L718.9 638 L717.7 639.9 L717.5 642.5 L718.6 645.2 L717.2 647.6 L716.4 650 L716 652.5 L716.1 655.3 L713.7 656.4 L711.1 657.4 L711 660 L709.1 657.8 L710 654.9 L709 652.5 L706.8 650.9 L707.2 648.1 L707.2 645.6 L705 644 L702 643.6 L699.2 642.8 L697.5 640 L695.1 641.7 L692.5 640.4 L690.2 642.4 L687.5 641 L684.6 641.7 L682.5 639.6 L680.4 637.5 L677.4 638.5 L675 637.5 L673.5 635.6 L672.9 633 L670.1 631.8 L670 629 L667.6 628 L664.7 628.6 L662.6 626.4 L660 626 L659.1 622.9 L654.9 623.1 L654 620 L651.4 621.1 L649 622.5 L646.8 622.1 L644.5 623.7 L642.2 623.3 L640 622.5 L637.3 623.8 L636 625.9 L637.4 629.5 L635 631 L632.8 632.7 L630.5 634.4 L630 637.5 L627.2 637.6 L625 636 L622.5 635.9 L620.2 638.1 L617.6 637.4 L614.9 636.6 L612.5 637.5 L610 636.9 L607.6 636 L604.8 638 L602.4 636.8 L600 636 L597.6 634.6 L595 635.3 L592.5 635.6 L590 635.5 L587.5 635 L585.7 632.3 L582.6 632.3 L579.3 632.7 L577.5 630 L576.3 627.4 L573.3 626.7 L571.7 624.5 L570 622.5 L567.2 621.7 L565.4 619.4 L562.9 618.1 L561 616 L558.2 615.7 L557.3 612.8 L554.2 612.9 L553.6 609.6 L551 609 L549.5 611.4 L546.4 609.9 L544.2 610.7 L542.5 612.5 L540 612 L537.6 610.8 L534.8 611.8 L532.7 609.7 L530 610 L527.4 609.4 L524.7 609.2 L523 606 L519.9 607 L517.4 606.2 L515 605 L513.8 602.4 L510.7 602 L509 600 L509.4 597.4 L512 597 L512.4 593.9 L515.8 593.4 L517 591 L519.4 589 L522.1 589.3 L524.6 588.5 L527.4 589.3 L530 589 L532.3 587.9 L532.8 584.6 L536.2 584.8 L537.5 582.5 L539.9 584 L542.5 585 L544.3 583.4 L547.1 583.1 L548.6 581 L550 579 L553.1 578.6 L554.9 576.3 L557.3 574.9 L559 572.5 L561.4 572.5 L563.8 572.3 L565.6 570.5 L567.9 570 L570 569 L572.8 567.9 L575.2 569.2 L577.2 571.9 L580 571 L582.8 569.8 L585.5 571.5 L588.2 570.1 L591 571 L592.6 569.5 L592.9 567 L595 566 L597.2 564.1 L600.1 565.7 L602.8 565.8 L605 564 L606.9 562.1 L606.6 559 L608 556.8 L610 555 L608.1 553.5 L605.9 552.4 L605 550 L605.9 547 L605 544 L606.2 541.8 L607.3 539.5 L607.8 537 L608.7 534.7 L610 532.5 L609.4 530 L610 527.3 L609.1 524.9 L608.7 522.4 L607.5 520 L607.9 517.3 L609 514.9 L608.7 512 L611 510 L608.9 508.7 L607.5 506.9 L607.1 504.5 L606 502.5 L606.6 499.9 L607 497.4 L606.6 494.9 L605 492.5 L605.8 490.1 L607.3 488.2 L609.2 486.6 L611 485 L612.3 482.7 L613.2 480.2 L612.5 477.5 L615 476.2 L618.1 476.2 L620.3 474.3 L622.5 472.5 L624.6 470.8 L625.2 467.7 L628.5 467.2 L630 465 L627.4 464.3 L625.7 462.6 L625 460 L624.6 457.4 L626.2 455.4 L627.2 453.2 L628 451 L630.5 450.6 L633 449.9 L635.7 449.8 L637.5 447.5 L639.8 446.1 L642.3 445.3 L645.2 447.5 L647.5 446 L648.8 443.2 L651 441 L653.3 440.4 L655.7 441.7 L657.8 439.3 L660.3 441.6 L662.5 440 L665.3 440.5 L668 441 L670.4 439.9 L672.1 443.1 L674.5 442 L676.9 444 L679.5 445.5 L682 444.6 L683.6 447.6 L686 447 L683.4 448.4 L681 450 L679.9 451.6 L678.1 452.4 L677.6 454.8 L679.3 456.6 L682 456.8 L684.2 458.4 L686.6 459.4 L689.2 459.9 L691.4 461.4 L693.5 462.9 L694 466 L697 466.5 L699.9 465.7 L702.3 467.5 L704.4 468.5 L706.8 469.1 L708.4 471.1 L710.4 473.3 L710.2 476.9 L713.2 478.4 L714.9 480.2 L715.3 482.8 L717 484.6 L718 486.8 L718.5 489.6 L720.6 491.6 L721.7 494.1 L724.2 495.4 L725.1 498 L726.5 500.1 L729 500.6 L731 502.7 L733.8 502.6 L735.4 505.1 L737.4 507.4 L738.7 510.1 L738 513 L737.3 515.2 L736.6 517.4 L735.4 519.5 L736 522 L737.2 524.5 L736.5 527.3 L736.2 530.1 L738 532.5 L738.8 535.1 L742.2 534.7 L742.9 537.4 L745 538.5 L743.2 540.3 L742 542.5 L739.2 543.5 L739 546.5 L737.9 548.7 L737.2 551 L734.6 552.5 L734.6 555.1 L734 557.5 L736.7 556.6 L739.4 556.4 L742.2 556.7 L745 556.5 L747.6 556.6 L748.1 559.5 L750 560.5 L749.2 562.8 L750.3 565.2 L750 567.5 L751.9 569.4 L754 570.4 L756.7 569.9 L759 570.5 L760.7 572.2 L763.6 571.6 L765.7 572.6 L767 575 L767.1 577.7 L770.2 577.9 L771 580 L774 580.1 L775.8 583.3 L778.6 583.8 L781.5 584 L784 582.7 L786.5 583.4 L789 583.1 L791.5 584 L793.8 585.5 L796.1 586.9 L796.5 590 L799.1 591.1 L802.1 591.4 L804.5 593 L806.4 594.8 L808.7 596.3 L809.5 599 L811.5 600.9 L812.5 603.2 L811.7 606Z" fill="#00d9a3"/>
<path d="M501 395 L502.8 397 L506 396.6 L508.2 397.9 L510 400 L512.4 401 L515.4 399.8 L517.3 402.8 L520 402.5 L522.2 404.2 L525.5 402.8 L527.3 405.7 L530 406 L532.5 407 L534.8 408.4 L536.9 410.4 L540 410 L541.7 412.8 L545.1 412.4 L547.5 414 L547.7 416.7 L549.2 418.7 L549.9 421.2 L552.5 422.5 L555.4 422.5 L555.7 426.3 L559 425.6 L561.2 426.6 L562.5 429 L564.8 427.9 L567.4 427.3 L569 425 L572 423.4 L572.5 420 L574.6 420.9 L575.6 423.4 L579 422.4 L580 425 L581.8 427.7 L585.3 426.9 L587.4 428.9 L590 430 L593 429.8 L595.6 430.6 L598.1 431.4 L599.9 434.3 L602.5 435 L604.9 436.4 L607 438.5 L609.5 439.8 L612.5 440 L614.5 441.3 L615.5 443.9 L618.8 443.7 L620 446 L621.3 448.3 L624.4 447.8 L625.2 451 L628 451 L627.2 453.2 L626.2 455.4 L624.6 457.4 L625 460 L625.7 462.6 L627.4 464.3 L630 465 L628.5 467.2 L625.2 467.7 L624.6 470.8 L622.5 472.5 L620.3 474.3 L618.1 476.2 L615 476.2 L612.5 477.5 L613.2 480.2 L612.3 482.7 L611 485 L609.2 486.6 L607.3 488.2 L605.8 490.1 L605 492.5 L606.6 494.9 L607 497.4 L606.6 499.9 L606 502.5 L607.1 504.5 L607.5 506.9 L608.9 508.7 L611 510 L608.7 512 L609 514.9 L607.9 517.3 L607.5 520 L608.7 522.4 L609.1 524.9 L610 527.3 L609.4 530 L610 532.5 L608.7 534.7 L607.8 537 L607.3 539.5 L606.2 541.8 L605 544 L605.9 547 L605 550 L605.9 552.4 L608.1 553.5 L610 555 L608 556.8 L606.6 559 L606.9 562.1 L605 564 L602.8 565.8 L600.1 565.7 L597.2 564.1 L595 566 L592.9 567 L592.6 569.5 L591 571 L588.2 570.1 L585.5 571.5 L582.8 569.8 L580 571 L577.2 571.9 L575.2 569.2 L572.8 567.9 L570 569 L567.9 570 L565.6 570.5 L563.8 572.3 L561.4 572.5 L559 572.5 L557.3 574.9 L554.9 576.3 L553.1 578.6 L550 579 L548.6 581 L547.1 583.1 L544.3 583.4 L542.5 585 L539.9 584 L537.5 582.5 L536.2 584.8 L532.8 584.6 L532.3 587.9 L530 589 L527.4 589.3 L524.6 588.5 L522.1 589.3 L519.4 589 L517 591 L513.8 590.6 L513.1 586.5 L510 586 L507.5 585.2 L506.3 582.1 L502.7 583.2 L501 581 L501.9 578.4 L505.1 577.6 L506 575 L506.5 572.7 L508.3 570.8 L507.7 568.1 L509 566 L510.6 564.4 L511.1 561.7 L513.8 561 L515 559 L514.4 556 L511.5 554.8 L510 552.5 L507.5 553.1 L505 553.6 L502.5 552.5 L499.8 553.5 L497.4 552.8 L495 551.6 L492.3 552.9 L490 551 L488 549.9 L486.9 547.6 L484.8 546.5 L483 545.1 L481 544 L480.8 541.7 L478.9 539.7 L479.2 537.4 L480 535 L477.2 534.9 L474.4 535.9 L471.9 532.8 L469 534 L467.1 532.1 L464.9 531.1 L461.7 532.7 L460.3 529.4 L457.5 530 L454.8 529.4 L452.5 531 L451.1 528.8 L448.8 528.1 L447 526.6 L445.3 524.9 L442.5 525 L440.2 523.5 L439.9 520.1 L437.2 519.1 L435 517.5 L432.4 517.7 L430.3 514.9 L427.5 516 L424.7 515.4 L424.4 512.3 L421.8 511.5 L420.5 509.4 L419 507.5 L417.3 505.3 L417.4 502.3 L416.7 499.7 L415 497.5 L413.7 494.9 L414.5 492.4 L414.8 489.9 L415.6 487.5 L416 485 L415.1 482.4 L417.9 480.8 L416.6 478.1 L417.6 476 L419 474 L417 472.5 L416.2 470.1 L415 468 L417.1 466 L420 466 L422.7 465.9 L424 463.3 L425.7 461.2 L428.1 460.6 L431 460.8 L432.1 457.8 L435 458 L437.6 457.3 L439.1 454.8 L441.1 453.2 L443.4 452.1 L444.8 449.6 L447.3 448.7 L450 448 L450.9 445.2 L453.6 444.5 L454.8 442.2 L458.2 442.3 L459.8 440.4 L461.1 438 L462.3 435.6 L465 435 L468 434.2 L468.2 430.7 L469.6 428.4 L472.1 427.1 L473.3 424.6 L476 423.5 L478.6 422.3 L480 420 L480.4 416.9 L484 416.4 L484 412.9 L487.1 412 L487.9 409.3 L490 407.5 L491.9 405.3 L492.3 402.8 L490.2 399.6 L492.5 397.5 L495.1 398.4 L497.1 397.4 L498.4 394.1 L501 395Z" fill="#00a878"/>
<path d="M509 600 L506 599 L504.7 597.2 L502.8 595.9 L501.7 593.9 L500 592.5 L497.1 592.1 L495.5 589 L493 587.8 L490 587.5 L487.6 586.5 L484.8 587.6 L482.5 585.9 L480 585.5 L477.6 585.4 L475.3 585.1 L473.7 582.1 L471 583 L468.4 584.1 L470 587.8 L467.5 589 L464.7 588.5 L462.4 590.1 L460.1 591.5 L457.7 592.5 L455 592.5 L455.3 589.6 L454.2 586.9 L454 584 L451.9 582.6 L449.6 581.9 L446.7 582.8 L445.1 579.9 L442.5 580 L440.3 578.2 L438 578 L435.6 579 L433.2 580.7 L431 579 L432.3 582 L431.6 584.8 L430 587.5 L428.3 589.9 L430.3 592.6 L429.9 595 L427.9 597.4 L429 600 L429.3 602.6 L428.2 605 L428.3 607.5 L429.3 610.2 L427.5 612.5 L426.4 614.9 L424.6 617.1 L426 620.4 L424 622.5 L425.3 625.2 L425 628.1 L425 631 L422 631.6 L420 629.3 L417.9 627.4 L415 627.5 L412.4 627.6 L410 628.6 L407.2 628.2 L405 630 L404.8 633 L402.3 634.9 L401.6 637.7 L400 640 L397.9 641 L397 643.6 L393.9 643 L392.5 645 L392.6 648.1 L391.2 650.5 L389 652.5 L388.1 655.1 L387.8 657.6 L389.7 660 L390 662.5 L390.7 664.9 L390 667.5 L388.9 669.7 L386.4 670.6 L385 672.5 L382.6 671.6 L380.8 670.1 L380 667.5 L377.9 665.9 L375.3 665 L374 662.5 L371.5 663.8 L369 665 L367.5 667.5 L365.4 665.5 L362.5 665.2 L360 664 L357.8 663.2 L356.1 661.7 L353.4 661.7 L352.5 659 L351.2 661.3 L351.8 664.1 L351.2 666.6 L350 669 L348.1 671.5 L345.1 671.5 L342.5 672.5 L340.5 673.5 L339 675.3 L336.2 675.2 L335 677.5 L332.7 675.8 L329.6 676 L327.5 674 L325 672.9 L323 670.7 L320 670.9 L317.5 670 L315 669.5 L312.4 671.1 L310 669.4 L307.5 669.3 L305 669 L302.4 668.6 L299.9 667.8 L297.6 666.5 L295 666 L293.6 664.2 L292 662.5 L289.6 661.5 L289 659 L290.9 657.2 L294 656.9 L295 654 L293.3 652.6 L290.8 651.8 L289.3 650.3 L289 647.5 L287.3 645.9 L284.4 645.7 L282.7 644.1 L280.9 642.5 L280 640 L278.4 638.3 L278.3 635.3 L275.5 634.6 L273.9 632.9 L272.5 631 L270 630.7 L267.5 630 L265 629.7 L262.5 629 L262.4 626.6 L262.1 624.2 L260 622.5 L258.6 620.4 L256.1 619.4 L254.7 617.2 L252.5 616 L253.2 613.5 L250.1 612.1 L249.8 609.9 L250 607.5 L247.6 606.6 L245.1 605.9 L242.5 606 L241.1 604 L239.3 602.4 L238.2 600.1 L235.6 599.3 L234 597.5 L233.9 594.9 L233.4 592.6 L230.8 591.2 L230 589 L228.2 586.9 L225.8 586.3 L223.8 584.8 L221 585 L221.3 582.5 L221.9 580 L221 577.5 L220.7 574.7 L223.6 572.8 L224.7 570.4 L224 567.5 L225.2 564.9 L228.8 565.1 L230 562.5 L229.6 559.7 L229.1 556.9 L229 554 L231.5 552.5 L231.5 549.7 L232.5 547.5 L235.1 547.9 L237.4 547.1 L239.5 545.7 L241.6 544.4 L244 544 L245 541.3 L242.8 539.1 L241.3 536.7 L242.5 534 L245.2 532.9 L245.9 530.1 L247.5 528 L246.7 525.9 L246.1 523.8 L244 522.5 L243.2 520.2 L244.2 518.1 L245 516 L246.1 513.3 L248.7 512 L249.8 509.2 L252.5 508 L253.2 505.7 L256.1 504.7 L256 501.8 L257.5 500 L257.1 497.4 L256.9 494.8 L256.4 492.3 L255 490 L253 487.8 L255.5 484.7 L253 482.6 L251.8 480.2 L252.5 477.5 L253.8 475.3 L251.9 472.7 L252 470.4 L254.1 468.4 L254 466 L256.6 467.7 L259.4 468 L262.1 468.1 L265 467 L267.6 465.8 L270 467.7 L272.5 467.3 L275 467.9 L277.5 468 L279.4 465.6 L282 464.4 L285 464 L286.9 462.5 L288.5 460.6 L290.9 460 L292.1 457.4 L295 457.5 L297.7 458.2 L297.8 461.3 L300 462.5 L302.5 462.6 L305 463.3 L307.4 464.4 L310 464 L312.3 462.6 L314.4 460.6 L317.9 461.9 L320 460 L321.9 458.9 L323.7 457.8 L325 456 L326.8 457.6 L328.1 459.9 L331.3 459.5 L332.5 461.9 L335 462.5 L337.5 462.1 L340 462.7 L342.5 463 L345 462.5 L347.7 462.5 L350.3 462.4 L352.5 464.3 L355 465 L357.8 464.7 L360.1 463.3 L362.4 461.8 L365 461 L367.3 462.4 L370.4 462 L372.9 463 L375 465 L377.8 466 L380 468 L382.8 467.4 L383.9 464.1 L386 462.4 L389 462 L391.7 461.5 L393.9 462.1 L395.9 463.7 L397.7 465.4 L400 466 L402.4 467.4 L405.1 466.1 L407.6 466.6 L410.1 466.6 L412.6 467 L415 468 L416.2 470.1 L417 472.5 L419 474 L417.6 476 L416.6 478.1 L417.9 480.8 L415.1 482.4 L416 485 L415.6 487.5 L414.8 489.9 L414.5 492.4 L413.7 494.9 L415 497.5 L416.7 499.7 L417.4 502.3 L417.3 505.3 L419 507.5 L420.5 509.4 L421.8 511.5 L424.4 512.3 L424.7 515.4 L427.5 516 L430.3 514.9 L432.4 517.7 L435 517.5 L437.2 519.1 L439.9 520.1 L440.2 523.5 L442.5 525 L445.3 524.9 L447 526.6 L448.8 528.1 L451.1 528.8 L452.5 531 L454.8 529.4 L457.5 530 L460.3 529.4 L461.7 532.7 L464.9 531.1 L467.1 532.1 L469 534 L471.9 532.8 L474.4 535.9 L477.2 534.9 L480 535 L479.2 537.4 L478.9 539.7 L480.8 541.7 L481 544 L483 545.1 L484.8 546.5 L486.9 547.6 L488 549.9 L490 551 L492.3 552.9 L495 551.6 L497.4 552.8 L499.8 553.5 L502.5 552.5 L505 553.6 L507.5 553.1 L510 552.5 L511.5 554.8 L514.4 556 L515 559 L513.8 561 L511.1 561.7 L510.6 564.4 L509 566 L507.7 568.1 L508.3 570.8 L506.5 572.7 L506 575 L505.1 577.6 L501.9 578.4 L501 581 L502.7 583.2 L506.3 582.1 L507.5 585.2 L510 586 L513.1 586.5 L513.8 590.6 L517 591 L515.8 593.4 L512.4 593.9 L512 597 L509.4 597.4 L509 600Z" fill="#00d9a3"/>
<path d="M221 585 L219.6 587 L217.8 588.6 L215.4 589.7 L215 592.5 L213.2 590.4 L211.7 588.2 L210 586 L208.3 584.3 L205.6 583.8 L204.4 581.5 L202.5 580 L202 577.4 L201.7 574.7 L198.6 573 L199 570 L196.7 568.7 L194.4 567.4 L194.3 563.9 L192.3 562.3 L190 561 L187.3 560.3 L188.2 556.5 L186.7 554.9 L184.4 553.9 L182.5 552.5 L180.3 551.4 L177.6 552.2 L175.1 552 L173.3 549.6 L171 549 L168.5 547.4 L167.7 544.9 L166.6 542.5 L164.8 540.5 L165 537.5 L163.4 535.6 L161.8 533.6 L161.4 530.8 L159.1 529.5 L157.5 527.5 L156.2 525.3 L154.2 523.8 L153 521.5 L151 520 L150.2 518 L149 516.2 L149 514 L147.7 511 L145.5 509.4 L142.9 508.2 L140 507.5 L138.9 504.9 L136.2 503.5 L135 501 L132.8 502.9 L130.3 503.7 L127.5 504 L124.8 504.7 L123.3 501.8 L120.7 502.3 L118.8 500.2 L116.1 501 L114 500 L114.7 497.1 L112.5 495 L112.2 492.5 L108.6 492.2 L107.9 489.9 L107.5 487.5 L106.7 485 L104 484.6 L103.5 481.8 L100.5 481.8 L99 480 L96.5 478.1 L96.9 474.8 L96.1 472.1 L94 470 L93.2 467.8 L92.6 465.5 L93.4 463.2 L94 461 L93 458.1 L90.6 456.8 L87.1 456.7 L86 454 L84.9 451.6 L84.2 449.1 L83.8 446.6 L85 444 L83.9 441.3 L80.5 440.7 L79.5 437.9 L77.5 436 L78.1 433 L79 430 L76.6 428.8 L76.3 425.7 L73.2 425.2 L72.5 422.5 L70.9 420.8 L68 421.1 L66.7 419 L65 417.5 L63.2 415.3 L62.6 412.7 L62.5 410 L65.3 409.7 L66.6 407.8 L67.2 405 L70.2 405 L71 402.5 L70.5 399.5 L71.6 396.8 L72.5 394 L75 393.2 L76.1 391.1 L76.4 388.2 L79 387.5 L81.6 386.5 L80.7 383.2 L82.1 381.4 L84 380 L85.4 378.2 L85 376 L87.7 375.4 L89.7 378.3 L92.5 377.5 L95.2 377.1 L97.6 375.7 L100.2 374.9 L102.6 373.7 L105 372.5 L107.5 371.9 L109.9 370.9 L112.5 371.5 L114.8 369.9 L117.6 371.5 L119.9 369.4 L122.5 370 L125.3 369 L127.7 370.2 L130.2 370.4 L132.7 371 L135 372.5 L136.9 371.2 L139 372 L139 369.1 L142.4 367.9 L142.5 365 L145.3 364.7 L148.1 364.5 L149.9 361.7 L152.5 361 L154.1 359 L156.8 359.2 L159.1 358.6 L161.3 357.9 L162.9 355.9 L165 355 L167.9 355.4 L169.7 352.6 L172.5 352.5 L174.6 354.5 L177 355.9 L180 356 L182 354.2 L183.3 352.1 L182.6 348.8 L184.3 346.9 L186 345 L186.8 342.4 L189.4 340.7 L190 338 L192.7 337 L194.9 339.3 L197.5 339 L198.8 341.3 L199.8 344 L203.2 344.5 L204.9 346.5 L206 349 L208.1 350.4 L210.3 351.5 L213.2 350.1 L214.7 353.4 L217.5 352.5 L220.1 352.9 L221.2 355.6 L224.3 355.2 L225 358.4 L227.5 359 L230.2 358.3 L232.4 360.7 L234.9 361.2 L237.5 361 L239 363.1 L241.6 363.4 L242.8 365.9 L244.6 367.6 L247.5 367.5 L250.6 367.6 L252.5 370.1 L254.3 372.6 L257.5 372.5 L258.6 374.7 L260.9 375.6 L262.8 376.9 L264 379 L262.1 381.5 L264.7 384.5 L262.1 386.9 L261.5 389.5 L263.5 392.5 L262 395 L262.1 397.6 L261.6 400.1 L260.4 402.5 L260.4 405.1 L258.2 407.2 L259 410 L258.5 413 L261.3 414.8 L260.2 417.9 L263.7 419.5 L264.5 422.1 L264 425 L262 426.8 L260.2 428.6 L258.6 430.6 L256.6 432.4 L255.5 434.7 L255 437.5 L255.4 440.1 L253.4 442.4 L252.3 444.8 L254.7 447.7 L252.9 450 L252.5 452.5 L254 455.1 L254.3 457.8 L253.5 460.6 L253.1 463.4 L254 466 L254.1 468.4 L252 470.4 L251.9 472.7 L253.8 475.3 L252.5 477.5 L251.8 480.2 L253 482.6 L255.5 484.7 L253 487.8 L255 490 L256.4 492.3 L256.9 494.8 L257.1 497.4 L257.5 500 L256 501.8 L256.1 504.7 L253.2 505.7 L252.5 508 L249.8 509.2 L248.7 512 L246.1 513.3 L245 516 L244.2 518.1 L243.2 520.2 L244 522.5 L246.1 523.8 L246.7 525.9 L247.5 528 L245.9 530.1 L245.2 532.9 L242.5 534 L241.3 536.7 L242.8 539.1 L245 541.3 L244 544 L241.6 544.4 L239.5 545.7 L237.4 547.1 L235.1 547.9 L232.5 547.5 L231.5 549.7 L231.5 552.5 L229 554 L229.1 556.9 L229.6 559.7 L230 562.5 L228.8 565.1 L225.2 564.9 L224 567.5 L224.7 570.4 L223.6 572.8 L220.7 574.7 L221 577.5 L221.9 580 L221.3 582.5 L221 585Z" fill="#007550"/>
<path d="M206 349 L207.9 347 L205.1 344.2 L207.9 342.4 L207.5 340 L208.7 337.8 L212.2 338.9 L212.2 334.9 L215 335 L217 332.9 L217.2 330.2 L218.6 327.9 L219.8 325.5 L219 322.5 L220.8 320.7 L223.2 320 L225.9 320.1 L227.5 317.8 L230 317.5 L231.5 315.4 L233.4 313.8 L236.7 314 L238.8 312.5 L240 310 L242.4 311.3 L245.1 309.6 L247.4 312.2 L250 311 L252.5 309.8 L254.6 307.7 L257.4 307.1 L260 306 L262.5 305.5 L264.9 304.1 L267.5 305.5 L270 305 L271.7 303.1 L274.1 302.2 L276.9 301.7 L278.3 299.4 L280 297.5 L282.1 296 L285.1 296.1 L287.6 295.2 L289 292.5 L291.2 291 L294.3 290.8 L294.7 286.6 L297.1 285.5 L300 285 L301.1 282.3 L304.8 282.3 L306.1 279.8 L308 278 L308.9 275.1 L311.2 273.7 L314.1 272.8 L315 270 L315.4 267.2 L317 265.2 L318.3 263.1 L320.9 261.9 L323.4 260.7 L324.1 258.1 L325.2 255.8 L327 254 L327.6 251.3 L330 250 L333 249.2 L333.4 245.9 L335 243.7 L337 242 L340.2 241.4 L340.8 238.3 L344.1 237.8 L345 235 L346.4 232.9 L348.4 231.4 L349.2 228.7 L352 228 L354.6 228.6 L356.9 230.2 L359.4 231.2 L362.4 229.6 L364.7 231.7 L367.3 232.1 L370 232 L372.4 232.9 L375.2 231.4 L377.7 231.5 L380.1 233.1 L382.4 234.7 L385.1 233.4 L387.5 234.6 L390 235 L392.5 234.5 L394.9 236.4 L397.4 236.9 L400 235.2 L402.4 237.3 L405.1 234.3 L407.4 236.9 L410 236 L413.2 235.3 L415 232.5 L414.3 229.8 L416 227.5 L417.9 229 L420.3 229.4 L422.5 230 L424.8 231.9 L427.6 229.7 L430 231 L432.3 232.9 L434.8 234.5 L436.5 237.3 L439.7 238.1 L440.9 240.4 L443.4 241.8 L444.5 244.2 L447 246.2 L447 249.5 L446.8 251.9 L446.8 254.2 L448.1 256.3 L448.9 258.3 L449.7 260.3 L450.6 262.3 L451.7 264.6 L450.6 267.7 L453 269.6 L451.7 272.4 L449.3 274.4 L448.8 276.8 L447.1 278.2 L445.1 279.3 L446.8 280.9 L447.6 283 L448.1 285.3 L450.8 285.4 L453.4 285.6 L455.4 287.7 L457.5 289.4 L459.1 291.4 L460.2 293.8 L461.2 296.3 L462.6 298.6 L465.4 297.6 L468.3 297.1 L471.1 298.6 L473.2 296.8 L476 297.1 L478.4 296.2 L480.3 297.5 L481 300 L483.2 301 L482.5 303.4 L484.1 305.5 L485.5 307.6 L484.4 310 L483.4 312.4 L484 315 L482.4 317.2 L482.7 320.1 L481.1 322.3 L481.5 325.2 L480 327.5 L480.5 330.1 L482.2 331.5 L483.8 333 L486 334 L487.9 336.4 L491 336 L490.2 338.9 L487.2 339.9 L486 342.5 L484.7 344.8 L484.3 347.5 L484.3 350.3 L482.5 352.5 L483.8 354.6 L485.7 355.9 L488.1 356.3 L490 357.5 L491.9 358.8 L494.2 359.3 L496.6 359.8 L497.5 362.5 L497.2 365.1 L496 367.5 L498.2 368.4 L500.9 367.3 L502.5 370.3 L505 370 L505.7 372.6 L505.5 375.1 L506 377.6 L502.5 379.9 L504 382.5 L502.2 384.7 L500.8 387 L500.6 389.9 L500 392.5 L501 395 L498.4 394.1 L497.1 397.4 L495.1 398.4 L492.5 397.5 L490.2 399.6 L492.3 402.8 L491.9 405.3 L490 407.5 L487.9 409.3 L487.1 412 L484 412.9 L484 416.4 L480.4 416.9 L480 420 L478.6 422.3 L476 423.5 L473.3 424.6 L472.1 427.1 L469.6 428.4 L468.2 430.7 L468 434.2 L465 435 L462.3 435.6 L461.1 438 L459.8 440.4 L458.2 442.3 L454.8 442.2 L453.6 444.5 L450.9 445.2 L450 448 L447.3 448.7 L444.8 449.6 L443.4 452.1 L441.1 453.2 L439.1 454.8 L437.6 457.3 L435 458 L432.1 457.8 L431 460.8 L428.1 460.6 L425.7 461.2 L424 463.3 L422.7 465.9 L420 466 L417.1 466 L415 468 L412.6 467 L410.1 466.6 L407.6 466.6 L405.1 466.1 L402.4 467.4 L400 466 L397.7 465.4 L395.9 463.7 L393.9 462.1 L391.7 461.5 L389 462 L386 462.4 L383.9 464.1 L382.8 467.4 L380 468 L377.8 466 L375 465 L372.9 463 L370.4 462 L367.3 462.4 L365 461 L362.4 461.8 L360.1 463.3 L357.8 464.7 L355 465 L352.5 464.3 L350.3 462.4 L347.7 462.5 L345 462.5 L342.5 463 L340 462.7 L337.5 462.1 L335 462.5 L332.5 461.9 L331.3 459.5 L328.1 459.9 L326.8 457.6 L325 456 L323.7 457.8 L321.9 458.9 L320 460 L317.9 461.9 L314.4 460.6 L312.3 462.6 L310 464 L307.4 464.4 L305 463.3 L302.5 462.6 L300 462.5 L297.8 461.3 L297.7 458.2 L295 457.5 L292.1 457.4 L290.9 460 L288.5 460.6 L286.9 462.5 L285 464 L282 464.4 L279.4 465.6 L277.5 468 L275 467.9 L272.5 467.3 L270 467.7 L267.6 465.8 L265 467 L262.1 468.1 L259.4 468 L256.6 467.7 L254 466 L253.1 463.4 L253.5 460.6 L254.3 457.8 L254 455.1 L252.5 452.5 L252.9 450 L254.7 447.7 L252.3 444.8 L253.4 442.4 L255.4 440.1 L255 437.5 L255.5 434.7 L256.6 432.4 L258.6 430.6 L260.2 428.6 L262 426.8 L264 425 L264.5 422.1 L263.7 419.5 L260.2 417.9 L261.3 414.8 L258.5 413 L259 410 L258.2 407.2 L260.4 405.1 L260.4 402.5 L261.6 400.1 L262.1 397.6 L262 395 L263.5 392.5 L261.5 389.5 L262.1 386.9 L264.7 384.5 L262.1 381.5 L264 379 L262.8 376.9 L260.9 375.6 L258.6 374.7 L257.5 372.5 L254.3 372.6 L252.5 370.1 L250.6 367.6 L247.5 367.5 L244.6 367.6 L242.8 365.9 L241.6 363.4 L239 363.1 L237.5 361 L234.9 361.2 L232.4 360.7 L230.2 358.3 L227.5 359 L225 358.4 L224.3 355.2 L221.2 355.6 L220.1 352.9 L217.5 352.5 L214.7 353.4 L213.2 350.1 L210.3 351.5 L208.1 350.4 L206 349Z" fill="#00a878"/>
<path d="M321 337.5 L323.1 336.3 L325.1 334.8 L327.4 333.9 L330 334 L332.2 332.3 L335.3 333.1 L337.2 330.6 L340 330.5 L342.4 329.8 L345.1 330.5 L347.5 329.6 L350.2 330.6 L352.5 328.8 L355 328.5 L357.5 328.5 L360 329.5 L362.6 328.4 L364.8 331 L367.5 329.5 L370 329.8 L372.5 330.5 L374.7 332.2 L378 331.8 L380 334 L381.6 336.1 L383.2 338.3 L386.4 338.7 L387 342 L390 342.5 L387.9 343.9 L385.4 344.8 L384.1 347.1 L382.2 348.8 L380 350 L382.3 351.5 L384.6 352.9 L385 356 L383.7 358.1 L380.3 357.1 L379.3 359.7 L377.5 361 L375 360.9 L372.6 359.2 L370 360 L367.6 358.6 L365 360 L362.7 361.7 L360.4 363.4 L356.9 362.5 L355 365 L352.8 366.7 L349.8 365.3 L347.4 366.6 L345 367.5 L343 369.4 L342.8 371.6 L344 374 L341.4 373 L338.4 374.5 L336 372.5 L334.1 369.9 L335.2 366.8 L335 364 L334.2 361.2 L330.5 360.5 L330 357.5 L328.5 355.5 L326.3 354 L325.7 351.5 L325 349 L323.7 346.6 L325.1 344.6 L326 342.5 L324.4 340.8 L321.9 339.9Z" fill="#007550"/>
<path d="M85 376 L82.3 375.5 L82 372.1 L79.9 370.8 L77.5 370 L75.1 368.5 L74 366 L75 362.5 L72.8 361.1 L70.5 359.9 L68.7 357.9 L66.2 357 L64.7 355 L61.5 355.8 L60.2 353.4 L57.2 353.2 L56.9 349.5 L54.2 348.9 L51.8 347.6 L50.2 345.2 L47.4 344.4 L44.6 343.6 L44.3 340.8 L43.5 338.3 L41.4 336.9 L39.3 335.5 L40 332.2 L38.5 330.4 L36.1 329.3 L35 326.5 L35.5 324 L37.6 321.8 L36.4 319.9 L36.2 317.2 L33.3 316.5 L32.3 314.4 L29.8 312.7 L28.6 310 L27 307.6 L24.1 307 L22.9 304.7 L21.8 302.3 L22.6 299.9 L23.8 297.8 L24.8 295.5 L24.7 292.6 L26.3 290.2 L24 288 L23.3 284.9 L25.4 283.7 L27.8 284.3 L30 284.2 L32.6 283.6 L35.1 282.8 L37.6 284.5 L37.2 287.6 L39.1 290.2 L39.7 292.1 L40.6 293.9 L42.3 295.6 L45.2 295.5 L46.6 297.7 L45.8 300.7 L47 303.1 L48.9 305.2 L50.7 307.5 L50.5 310.2 L50.4 312.8 L50.4 315.3 L51.9 317.3 L54 318.6 L56.4 318.5 L58.2 316.3 L56.9 313.7 L57.5 311.3 L58.9 309.2 L58.7 306.8 L57.7 304.4 L58.7 302.2 L59.7 299.8 L61.4 297.6 L60.9 294.7 L63.2 293.3 L63.6 290.6 L65.1 288.6 L66.2 286.4 L66.9 283.7 L69 282.7 L72 282.7 L73 280.4 L74.6 278.4 L75.7 276.1 L78.3 275.1 L79.9 272.5 L81.3 269.8 L83.9 270 L86.4 269.4 L88.8 268.3 L91.5 267.2 L94.3 266.6 L97.1 266.1 L99.9 266.6 L102.5 268 L105.4 267.6 L107.6 269.2 L109.9 270.6 L111.1 267.9 L112.9 265.6 L114.4 263.1 L115.7 260.7 L117.7 259.7 L120.4 260.1 L121.4 262.1 L123.4 263.1 L125.9 261.8 L125.7 259.2 L126.4 257 L128.5 257.8 L130.8 258.3 L132.1 260.5 L134 261.6 L135 264.4 L137.4 265.3 L140 266.1 L141.9 267.2 L143.5 269.1 L146 269 M146 269 L149.1 268.1 L151.1 266.1 L152 263 L151 260.2 L151.6 257.7 L154.6 255.7 L154.8 253.2 L155.1 250.6 L155 248 L157.3 247 L159.9 247.6 L162.3 247.2 L164.6 246.7 L167 246 L169.6 245.1 L172 246.3 L174.5 246.4 L177 247 L178.5 244.9 L180.3 242.9 L180.9 240.5 L180.5 237.7 L181 235.3 L182 233 L184.4 231.3 L186.8 229.5 L190 230 L190.6 227.1 L193.4 226.4 L194.8 224.3 L197 223 L199.3 222.3 L201.9 223.7 L204 222 L204.7 220 L205.5 218.1 L206 216 L207.9 214.2 L209.8 212.5 L212.5 212.5 L215 212 L215.9 209.4 L218.5 208.5 L221.4 207.9 L222 205 L224.4 204.7 L225.9 202.3 L229 203.7 L231 202.6 L233.1 201.6 L235 200 L238 200.5 L240.5 199.3 L243.1 198.5 L245.3 196.3 L248 196 L250.8 196.9 L253.1 196.2 L254.7 192.9 L257.6 194.2 L259.9 193.4 L262 192 L264.6 191.3 L267.2 190.9 L269.8 190.2 L272.7 191 L275 189 L277.3 188.2 L280 188.4 L281.8 186 L284.8 186.9 L287.1 186.1 L289 184 L291.8 183.9 L294.5 184.2 L297.2 185.4 L300 184 L302.5 183 L304 180.8 L306 179.3 L308.1 177.5 L310.6 176.9 L313.5 177.2 L315.7 175.6 L317.8 173.7 L321 175.3 L323 173.2 L322.8 170.8 L325.5 169.2 L324.8 166.6 L327 166 L329.2 168.2 L331.4 166.6 L333.8 167.3 L336.3 166.6 L338.7 166.6 L340.7 165.8 L342.9 165.4 L344.7 164.1 L346.5 161.5 L347.8 158.7 L345.3 157.7 L343.5 155.7 L340.8 155.8 L338.7 154.1 L336.3 153.3 L336.4 150.2 L333.9 148.4 L331.6 146.8 L329 146 L327.3 143.8 L328.4 141.2 L330.6 138.9 L330.8 135.7 L332.7 134 L333.3 131.5 L335.2 133.2 L337.5 132.1 L340.5 132 L342.9 133.9 L344.2 136 L347.5 135.5 L348.4 138.1 L350.6 137.8 L352.1 135.8 L354.4 135.7 L357.5 135.1 L360.5 136.3 L362.3 133.3 L361.7 136 L363.5 138.1 L366.9 138.5 L368.9 141.2 L371.3 142.8 L373.8 144.2 L373.6 147 L375.6 149 L375.4 151.4 L374.5 153.5 L372.6 155.1 L370 156.4 L369.5 159.3 L372.6 161.1 L374.5 160.2 L376.8 160.6 L378.6 159.3 L380.5 157.4 L382.8 158.7 L382.9 161.2 L383.1 163.7 L381.6 165.9 L380.2 168.1 L381.3 171.2 L379.2 173.2 L378.6 175.6 M378.6 175.6 L380.9 175.3 L382.6 176.9 L384.6 177.4 L386.8 178 L388.5 179.8 L390.7 180.5 L392.5 181.7 L395.2 180.7 L396.7 182.9 L398.9 181 L401.6 182.3 L403.5 180.5 L402.4 177.6 L404 175.6 L404.4 172.8 L406.4 170.8 L409.4 171.4 L412.6 171.5 L414.2 168.6 L417.2 168.3 L419 166 L420.1 164 L421.8 162.2 L421.6 159.4 L424.2 158.2 L425 156 L426.4 153.8 L425.5 151.3 L426.4 149 L425.8 146.6 L427.5 144 L428.2 141 L429.4 138.6 L432.4 139.6 L433.9 137.7 L436.2 138.4 L438.7 138.5 L441.4 139.2 L443.5 141 L446.4 140.6 L447.3 144.2 L450 144.2 L451.5 141.7 L453.2 139.4 L453.7 142.5 L455.6 145 L457.9 146 L460 145.2 L462.1 144.2 L463 147.5 L466.1 149 L468.4 150.4 L470.2 152.3 L468.8 155 L469.4 157.9 L468.8 160 L466.4 161.4 L467 164 L466.4 166.7 L469.6 168.3 L469 171 L471.8 170.9 L473.9 172.1 L475.8 174 L477.7 176.3 L480.6 175.6 L481.2 177.8 L481 180.1 L482.5 182.1 L482.3 184.5 L482.8 186.9 L483.7 189.3 L483.9 191.8 L485.1 189.6 L487.3 188.3 L488.9 186.5 L490.3 184.5 L491.9 186.8 L494.4 187.2 L496.8 187.7 L498.9 190.1 L501.7 191 L504.8 191 L506 194 M506 194 L508.3 193.4 L510.6 193.2 L512.8 194.4 L515 195 L517.8 194.5 L520.4 194.8 L522.6 196.6 L525 197.5 L527.2 199.5 L529.8 199.7 L532.3 200.2 L535 200 L537.2 198.3 L540 198.5 L542.5 197.5 L544.4 199 L545.9 200.6 L547.4 202.4 L547.5 205 L549.6 206.3 L548.8 209.6 L550.3 211.2 L552.5 212.5 L555 213 L557.3 212.5 L559.2 210 L561.6 209.9 L564 210 L565.7 212.3 L567.4 214.6 L570 216 L569.1 218.4 L569.2 220.6 L572.1 222.6 L571 225 L573.2 225 L575.4 224.9 L577.5 224 L578.9 222.3 L579.4 219.8 L581.6 218.7 L583 217 L585.7 216.1 L587.4 219.4 L589.9 219.7 L592.5 219 L595 219.8 L597.7 219.7 L600 221 L602.1 219.1 L601.9 216.4 L602.5 214 L604.9 215.5 L607.4 215.7 L610 214.8 L612.5 215 L615.1 215.6 L617.4 217 L620 217.5 L621.8 219.3 L624 220.6 L625.2 222.9 L625.5 225.9 L629.1 226.2 L630.6 228.1 L631 231 L630.6 233 L631 235 L629.5 237.2 L626.9 238.2 L625 240 L625.4 242.5 L626.2 244.9 L626 247.5 L623 246.2 L620.6 249.3 L617.8 248.9 L615 249 L613.8 251.3 L611 251.6 L609.9 254.1 L607.5 255 L606.2 257.1 L603.5 258 L602.8 260.8 L600.6 262.1 L599 264 L598.2 266.8 L600 269 L602.6 269.7 L604.4 271.3 L605.7 273.3 L606 276.3 L608.1 277.6 L610 279 L612.8 278.1 L615.5 278.4 L618.2 277.9 L621 279 L621.9 281.1 L624 282.7 L622.6 285.6 L624 287.5 L625.4 289.9 L627.5 291.3 L630 291.9 L632.5 292.5 L632.4 295.4 L636.4 295.8 L636.9 298.4 L636.1 301.6 L637.9 303.4 L640 305 L642 306.8 L642.5 310 L645.1 311.3 L646.4 313.7 L649 315 L649.9 317.2 L650.5 319.4 L649.9 321.7 L650 324 L651 326 M651 326 L652.5 328.1 L654 330.2 L655.7 332.1 L657.1 334.3 L660 335 L662.3 336.4 L664.7 337.6 L667.9 335.3 L670 337.5 L671.8 335.5 L674.8 334.8 L676 332.2 L677.5 330 L680.1 328.8 L679.4 325.2 L681.9 323.9 L682.8 321.5 L685 320 L687.1 318.4 L689.2 316.9 L691 315 L692.5 314 M692.5 314 L695 312.5 L696 309.7 L698.7 309.9 L700.7 308.1 L702.9 306.5 L705.5 306.5 L708.5 306.8 L708.8 310.1 L711 311.3 L712.5 310 L714.2 308.9 L713.3 306 L711 304.1 L711.4 301.3 L713.5 299.1 L713.4 296.2 L711.8 293 L709.4 292.6 L708.1 290 L705.5 289.8 L704.8 287.5 L702.6 286.2 L701.5 284.2 L700.8 281.8 L700.5 279.3 L699.1 277.1 L696.7 275.8 L695.9 273.1 L694.2 271.9 L692.8 270.1 L690.4 269.9 L690.4 267.5 L692.9 266 L692.7 263.5 L695 262.8 L696.7 261.1 L699 263.4 L702.3 263.5 L704.9 263.8 L707.5 263.8 L709.5 265.9 L711.5 267.7 L713.9 268.5 L716.6 268.3 L719.3 268.7 L722.2 268 L724.6 269.9 L727.4 270.7 L728.6 273.5 L731 274.7 L733.2 273.5 L736.1 275.1 L738.1 273.1 L738.6 276 L739.7 278.7 L742.4 279.9 L743.7 282.6 L745.5 284.6 L748.3 285.4 L750.1 287.4 L753 288.3 L755.6 287.7 L758 285.8 L758.8 288.6 L759.6 291.4 L758.7 294.1 L758.8 297 L761.2 298.6 L762.9 297.4 L763.6 295.4 L765.9 296.7 L768.2 297.5 L770.8 296.2 L771.5 298 M771.5 298 L774 297.8 L776.5 296.7 L779 295.6 L781.9 296.2 L784.7 296.5 L787.4 294.3 L790.3 295.7 L793.1 295.4 L795.7 296.2 L797.8 297.8 L798.7 295.1 L801.5 294.6 L803.4 293 L804.2 289.6 L807.4 288.2 L807.2 286.2 L807.4 284.2 L810.3 283.6 L812.2 285.8 L815 286.3 L816.1 289 L815.9 291.5 L814 293.6 L814.6 296.2 L817 297.6 L818 299.9 L818.5 302.5 L818.1 304.9 L818.5 307.3 L815.2 308.1 L813.8 311.3 L811.7 312.3 L810 314 L807 313.5 L805.8 316.1 L803.6 318.4 L800.1 316.5 L797.8 318.5 L796.6 320.3 L794.6 320.9 L797 321.6 L798.7 323.1 L799.4 325.6 L801.3 327.1 L801.2 330 L803.4 331.2 L805.4 329.9 L807.7 330.9 L809.8 330.4 L811.9 332.8 L814.6 334.4 L816 336.1 L816.4 338.2 L817.5 340 L819.4 337.6 L821.9 336.6 L824.6 336.1 L827.7 336.6 L830 335 L832.1 333.7 L834.2 332.2 L836.8 331.9 L838.8 330.4 L840.8 328.8 L843.8 329.2 L845.9 327.8 L847.4 325.3 L850 325 L852.4 325.9 L855 326.3 L857.2 328.1 L859.8 328.3 L862.7 327.4 L864.6 330.3 L867.8 328.1 L870 330 L872.4 329.1 L875.2 329.6 L877.2 327 L880 327.5 L882.1 325.4 L885.1 326.8 L887.7 326.5 L890 325 L891.7 327.1 L892.8 329.7 L896.1 330.2 L897 333 L899.1 334.6 L901.1 336.4 L903.2 338 L905 340 L906.5 342.4 L908.4 344.1 L911.5 344.2 L913.3 346.2 L916.5 345.9 L917.5 349.1 L920 350 L921 352.3 L921.4 354.9 L923.2 356.6 L926.1 357.6 L927.2 359.8 L927.8 362.3 L931 363.1 L931 366 L933.1 367.4 L935 369 L936.4 371.4 L936.8 373.9 L937.2 376.4 L936 379 L938.2 380.8 L941 381 L940.3 383.9 L938.3 385.9 L936 387.5 L937.4 389.4 L937 392.2 L940.5 393.1 L940.5 395.8 L941.3 398 L942.5 400 L941.7 402.5 L942.4 404.6 L942.8 406.9 L945.2 408.6 L945 411 L947.6 411.7 L950.2 412.6 L952 415.2 L954.4 416.4 L957.5 416 L960.4 415.2 L963.1 415.7 L965.7 416.3 L968.4 416.7 L971 418 L971.7 420.4 L972 422.9 L973.8 425 L975.3 427.2 L974.6 430 L975 432.5 L975.6 434.8 L975.2 437.1 L974.1 439.5 L975.2 441.8 L976 444 L977 446.1 L977.6 448.4 L978.5 450.6 L980 452.5 L979 455 L975.5 453.9 L973.8 455.5 L972.5 457.5 L969.9 457.2 L967.9 458.3 L966.3 460.5 L964 461 L961.6 460.4 L959 460.5 L957.4 457.9 L955 457.5 L952.7 459.3 L950.2 459.7 L947.6 459.6 L945 459 L942.7 460.6 L940.1 460.5 L937.8 462 L935 461 L936 463.9 L934.9 466.3 L934.4 468.8 L932.5 471 L930.9 473 L929.8 475.5 L926 474.9 L925 477.5 L923 479.4 L922.6 482.6 L920 484 M920 484 L920.2 487.2 L918.5 490 L915.9 491.5 L917.1 495.1 L914.1 496.4 L913.5 499 L911.8 501.1 L909.5 501.5 L906.4 499.9 L905.2 503.3 L902.5 502.7 L900.5 504 L898.1 505 L895.7 505.8 L893.3 506.5 L891.2 508.3 L888.1 507.1 L886 509 L885.9 511.7 L884.3 513.5 L883.6 515.9 L881 517 L882.1 519.2 L882 521.6 L882 524 L880.2 526.1 L881.4 528.9 L881.8 531.5 L880.8 533.8 L877.9 535.7 L879 538.5 L880.3 541 L878.2 543.3 L878.8 545.7 L877.7 548.1 L878 550.5 L877.5 553.2 L875.4 555.3 L875 558 L874 560.5 L871.7 561.3 L869.3 561.8 L867.9 564 L866 565.5 L863.9 567.1 L861.7 567.8 L858.9 565.3 L856.9 567.3 L854.8 568.7 L852 566.6 L850 568.5 L849 571.1 L847.8 573.5 L846.5 576 L847 579 L847.5 581.6 L847 584 L845 586.4 L846 589 L843.5 590.7 L840.3 589.1 L838 591.8 L835 591 L832.8 592 L831.1 593.5 L828.8 594.3 L828 597 L825.4 597.3 L824 599.5 L822.5 601.6 L820 602 L818.4 604.1 L815.8 603.9 L813.8 605 L811.7 606 M811.7 606 L810 608.1 L808.4 610.3 L807.2 612.8 L804.5 614 L801.7 613.1 L799.4 616.3 L796.5 615 L794.8 613.7 L794 611.3 L791.5 611 L789 611.7 L787.6 609.5 L785.5 609 L783.2 610.4 L782.5 613.5 L779.5 614 L777.3 615.4 L774.6 615.4 L772.5 617 L770.6 615.6 L769.5 613.4 L766.5 613.4 L765.5 611 L762.9 610.2 L760.5 609.1 L759.1 606.5 L757 605 L754.8 603.1 L752.1 603.7 L749.7 602.6 L747 603 L745.6 604.6 L743.1 605 L742 607 L741.1 609.5 L739 610.5 L736.4 611.1 L735 613 L733.6 615.1 L733.9 617.7 L733 620 L732.1 622.7 L729.9 623.9 L727.5 625 L727.1 627.9 L725.7 630.3 L722.8 632 L722.5 635 L722.1 637.4 L718.9 638 L717.7 639.9 L717.5 642.5 L718.6 645.2 L717.2 647.6 L716.4 650 L716 652.5 L716.1 655.3 L713.7 656.4 L711.1 657.4 L711 660 L709.1 657.8 L710 654.9 L709 652.5 L706.8 650.9 L707.2 648.1 L707.2 645.6 L705 644 L702 643.6 L699.2 642.8 L697.5 640 L695.1 641.7 L692.5 640.4 L690.2 642.4 L687.5 641 L684.6 641.7 L682.5 639.6 L680.4 637.5 L677.4 638.5 L675 637.5 L673.5 635.6 L672.9 633 L670.1 631.8 L670 629 L667.6 628 L664.7 628.6 L662.6 626.4 L660 626 L659.1 622.9 L654.9 623.1 L654 620 L651.4 621.1 L649 622.5 L646.8 622.1 L644.5 623.7 L642.2 623.3 L640 622.5 L637.3 623.8 L636 625.9 L637.4 629.5 L635 631 L632.8 632.7 L630.5 634.4 L630 637.5 L627.2 637.6 L625 636 L622.5 635.9 L620.2 638.1 L617.6 637.4 L614.9 636.6 L612.5 637.5 L610 636.9 L607.6 636 L604.8 638 L602.4 636.8 L600 636 L597.6 634.6 L595 635.3 L592.5 635.6 L590 635.5 L587.5 635 L585.7 632.3 L582.6 632.3 L579.3 632.7 L577.5 630 L576.3 627.4 L573.3 626.7 L571.7 624.5 L570 622.5 L567.2 621.7 L565.4 619.4 L562.9 618.1 L561 616 L558.2 615.7 L557.3 612.8 L554.2 612.9 L553.6 609.6 L551 609 L549.5 611.4 L546.4 609.9 L544.2 610.7 L542.5 612.5 L540 612 L537.6 610.8 L534.8 611.8 L532.7 609.7 L530 610 L527.4 609.4 L524.7 609.2 L523 606 L519.9 607 L517.4 606.2 L515 605 L513.8 602.4 L510.7 602 L509 600 M509 600 L506 599 L504.7 597.2 L502.8 595.9 L501.7 593.9 L500 592.5 L497.1 592.1 L495.5 589 L493 587.8 L490 587.5 L487.6 586.5 L484.8 587.6 L482.5 585.9 L480 585.5 L477.6 585.4 L475.3 585.1 L473.7 582.1 L471 583 L468.4 584.1 L470 587.8 L467.5 589 L464.7 588.5 L462.4 590.1 L460.1 591.5 L457.7 592.5 L455 592.5 L455.3 589.6 L454.2 586.9 L454 584 L451.9 582.6 L449.6 581.9 L446.7 582.8 L445.1 579.9 L442.5 580 L440.3 578.2 L438 578 L435.6 579 L433.2 580.7 L431 579 L432.3 582 L431.6 584.8 L430 587.5 L428.3 589.9 L430.3 592.6 L429.9 595 L427.9 597.4 L429 600 L429.3 602.6 L428.2 605 L428.3 607.5 L429.3 610.2 L427.5 612.5 L426.4 614.9 L424.6 617.1 L426 620.4 L424 622.5 L425.3 625.2 L425 628.1 L425 631 L422 631.6 L420 629.3 L417.9 627.4 L415 627.5 L412.4 627.6 L410 628.6 L407.2 628.2 L405 630 L404.8 633 L402.3 634.9 L401.6 637.7 L400 640 L397.9 641 L397 643.6 L393.9 643 L392.5 645 L392.6 648.1 L391.2 650.5 L389 652.5 L388.1 655.1 L387.8 657.6 L389.7 660 L390 662.5 L390.7 664.9 L390 667.5 L388.9 669.7 L386.4 670.6 L385 672.5 L382.6 671.6 L380.8 670.1 L380 667.5 L377.9 665.9 L375.3 665 L374 662.5 L371.5 663.8 L369 665 L367.5 667.5 L365.4 665.5 L362.5 665.2 L360 664 L357.8 663.2 L356.1 661.7 L353.4 661.7 L352.5 659 L351.2 661.3 L351.8 664.1 L351.2 666.6 L350 669 L348.1 671.5 L345.1 671.5 L342.5 672.5 L340.5 673.5 L339 675.3 L336.2 675.2 L335 677.5 L332.7 675.8 L329.6 676 L327.5 674 L325 672.9 L323 670.7 L320 670.9 L317.5 670 L315 669.5 L312.4 671.1 L310 669.4 L307.5 669.3 L305 669 L302.4 668.6 L299.9 667.8 L297.6 666.5 L295 666 L293.6 664.2 L292 662.5 L289.6 661.5 L289 659 L290.9 657.2 L294 656.9 L295 654 L293.3 652.6 L290.8 651.8 L289.3 650.3 L289 647.5 L287.3 645.9 L284.4 645.7 L282.7 644.1 L280.9 642.5 L280 640 L278.4 638.3 L278.3 635.3 L275.5 634.6 L273.9 632.9 L272.5 631 L270 630.7 L267.5 630 L265 629.7 L262.5 629 L262.4 626.6 L262.1 624.2 L260 622.5 L258.6 620.4 L256.1 619.4 L254.7 617.2 L252.5 616 L253.2 613.5 L250.1 612.1 L249.8 609.9 L250 607.5 L247.6 606.6 L245.1 605.9 L242.5 606 L241.1 604 L239.3 602.4 L238.2 600.1 L235.6 599.3 L234 597.5 L233.9 594.9 L233.4 592.6 L230.8 591.2 L230 589 L228.2 586.9 L225.8 586.3 L223.8 584.8 L221 585 M221 585 L219.6 587 L217.8 588.6 L215.4 589.7 L215 592.5 L213.2 590.4 L211.7 588.2 L210 586 L208.3 584.3 L205.6 583.8 L204.4 581.5 L202.5 580 L202 577.4 L201.7 574.7 L198.6 573 L199 570 L196.7 568.7 L194.4 567.4 L194.3 563.9 L192.3 562.3 L190 561 L187.3 560.3 L188.2 556.5 L186.7 554.9 L184.4 553.9 L182.5 552.5 L180.3 551.4 L177.6 552.2 L175.1 552 L173.3 549.6 L171 549 L168.5 547.4 L167.7 544.9 L166.6 542.5 L164.8 540.5 L165 537.5 L163.4 535.6 L161.8 533.6 L161.4 530.8 L159.1 529.5 L157.5 527.5 L156.2 525.3 L154.2 523.8 L153 521.5 L151 520 L150.2 518 L149 516.2 L149 514 L147.7 511 L145.5 509.4 L142.9 508.2 L140 507.5 L138.9 504.9 L136.2 503.5 L135 501 L132.8 502.9 L130.3 503.7 L127.5 504 L124.8 504.7 L123.3 501.8 L120.7 502.3 L118.8 500.2 L116.1 501 L114 500 L114.7 497.1 L112.5 495 L112.2 492.5 L108.6 492.2 L107.9 489.9 L107.5 487.5 L106.7 485 L104 484.6 L103.5 481.8 L100.5 481.8 L99 480 L96.5 478.1 L96.9 474.8 L96.1 472.1 L94 470 L93.2 467.8 L92.6 465.5 L93.4 463.2 L94 461 L93 458.1 L90.6 456.8 L87.1 456.7 L86 454 L84.9 451.6 L84.2 449.1 L83.8 446.6 L85 444 L83.9 441.3 L80.5 440.7 L79.5 437.9 L77.5 436 L78.1 433 L79 430 L76.6 428.8 L76.3 425.7 L73.2 425.2 L72.5 422.5 L70.9 420.8 L68 421.1 L66.7 419 L65 417.5 L63.2 415.3 L62.6 412.7 L62.5 410 L65.3 409.7 L66.6 407.8 L67.2 405 L70.2 405 L71 402.5 L70.5 399.5 L71.6 396.8 L72.5 394 L75 393.2 L76.1 391.1 L76.4 388.2 L79 387.5 L81.6 386.5 L80.7 383.2 L82.1 381.4 L84 380 L85.4 378.2 L85 376 M146 269 L148.2 270.1 L150.1 271.8 L152.5 272.5 L154.6 273.7 L157.5 272.7 L159.9 273 L161.8 274.9 L164 276 L166.6 277 L167.6 280.1 L170 281.4 L172.5 282.5 L175.1 282.5 L177.5 281.9 L180.1 281.9 L182.5 281 L184 283.1 L183.3 285.6 L184.5 287.8 L182.3 290.4 L184 292.5 L184 295.7 L180.4 297 L180 300 L182.3 302 L181.4 305.2 L183.5 307.3 L184.3 309.9 L185 312.5 L184.2 315.2 L187.3 317.3 L186 320 L186.5 323 L182.9 324.5 L183.3 327.5 L182.5 330 L185.2 329.5 L186.2 333.2 L189 332.5 L188 335.5 L190 338 M190 338 L189.4 340.7 L186.8 342.4 L186 345 L184.3 346.9 L182.6 348.8 L183.3 352.1 L182 354.2 L180 356 L177 355.9 L174.6 354.5 L172.5 352.5 L169.7 352.6 L167.9 355.4 L165 355 L162.9 355.9 L161.3 357.9 L159.1 358.6 L156.8 359.2 L154.1 359 L152.5 361 L149.9 361.7 L148.1 364.5 L145.3 364.7 L142.5 365 L142.4 367.9 L139 369.1 L139 372 L136.9 371.2 L135 372.5 L132.7 371 L130.2 370.4 L127.7 370.2 L125.3 369 L122.5 370 L119.9 369.4 L117.6 371.5 L114.8 369.9 L112.5 371.5 L109.9 370.9 L107.5 371.9 L105 372.5 L102.6 373.7 L100.2 374.9 L97.6 375.7 L95.2 377.1 L92.5 377.5 L89.7 378.3 L87.7 375.4 L85 376 M190 338 L192.7 337 L194.9 339.3 L197.5 339 L198.8 341.3 L199.8 344 L203.2 344.5 L204.9 346.5 L206 349 M206 349 L207.9 347 L205.1 344.2 L207.9 342.4 L207.5 340 L208.7 337.8 L212.2 338.9 L212.2 334.9 L215 335 L217 332.9 L217.2 330.2 L218.6 327.9 L219.8 325.5 L219 322.5 L220.8 320.7 L223.2 320 L225.9 320.1 L227.5 317.8 L230 317.5 L231.5 315.4 L233.4 313.8 L236.7 314 L238.8 312.5 L240 310 L242.4 311.3 L245.1 309.6 L247.4 312.2 L250 311 L252.5 309.8 L254.6 307.7 L257.4 307.1 L260 306 L262.5 305.5 L264.9 304.1 L267.5 305.5 L270 305 L271.7 303.1 L274.1 302.2 L276.9 301.7 L278.3 299.4 L280 297.5 L282.1 296 L285.1 296.1 L287.6 295.2 L289 292.5 L291.2 291 L294.3 290.8 L294.7 286.6 L297.1 285.5 L300 285 L301.1 282.3 L304.8 282.3 L306.1 279.8 L308 278 L308.9 275.1 L311.2 273.7 L314.1 272.8 L315 270 L315.4 267.2 L317 265.2 L318.3 263.1 L320.9 261.9 L323.4 260.7 L324.1 258.1 L325.2 255.8 L327 254 L327.6 251.3 L330 250 L333 249.2 L333.4 245.9 L335 243.7 L337 242 L340.2 241.4 L340.8 238.3 L344.1 237.8 L345 235 L346.4 232.9 L348.4 231.4 L349.2 228.7 L352 228 M378.6 175.6 L377.1 177.2 L375 178 L373.2 179.3 L371.3 180.5 L370.7 183.3 L369.5 185.9 L367.8 187.3 L365.9 188.3 L363.9 187.4 L362.6 185.5 L360.5 184.7 L358.3 184.5 L356.8 182.9 L354.9 183.1 L353.2 184.1 L355.4 185.6 L355 187.9 L355 190.1 L354 192.1 L353.1 194.2 L350.8 195 L349.2 197.1 L349.8 200 L348.4 202.2 L345.3 202.5 L342.9 204.6 L341.1 207.1 L342.3 210 L343.8 212.3 L342.4 215.3 L343.3 217.8 L345 220 L346.3 222.4 L349.7 222.9 L350.4 225.9 L352 228 M352 228 L354.6 228.6 L356.9 230.2 L359.4 231.2 L362.4 229.6 L364.7 231.7 L367.3 232.1 L370 232 L372.4 232.9 L375.2 231.4 L377.7 231.5 L380.1 233.1 L382.4 234.7 L385.1 233.4 L387.5 234.6 L390 235 L392.5 234.5 L394.9 236.4 L397.4 236.9 L400 235.2 L402.4 237.3 L405.1 234.3 L407.4 236.9 L410 236 L413.2 235.3 L415 232.5 L414.3 229.8 L416 227.5 L417.9 229 L420.3 229.4 L422.5 230 L424.8 231.9 L427.6 229.7 L430 231 L432.3 232.9 L434.8 234.5 L436.5 237.3 L439.7 238.1 L440.9 240.4 L443.4 241.8 L444.5 244.2 L447 246.2 L447 249.5 M506 194 L508 195.7 L507.5 198.5 L509.5 200.1 L510 202.5 L510.8 205.1 L509.6 207.5 L509.4 210 L509.3 212.5 L509 215 L509.5 217.5 L509.8 220 L511.7 221.6 L512.9 223.6 L513.4 226 L511.8 227.7 L511.9 230.3 L510.4 232.1 L510.4 234.6 L510.7 237.1 L512.2 239.3 L510.4 241.2 L509.5 243.4 L510.4 246 L509.5 247.9 L507.4 248.4 L504.6 248 L502.6 246 L500.6 243.6 L497.7 242.4 L495.7 244 L494.1 246 L494.3 248.5 L491.9 250.2 L491.7 252.6 L488.9 253.9 L488 256.9 L486.7 255 L484.4 255.1 L482.4 253.8 L482 251.4 L478.9 251.5 L476 250.2 L473.4 251 L472.5 247.1 L469.9 247.8 L468.6 249.8 L466.3 250.2 L463.4 251.1 L461.4 253.3 L459 252.5 L456.6 252 L454.7 251.1 L452.6 250.7 L450.6 250.2 L447 249.5 M447 249.5 L446.8 251.9 L446.8 254.2 L448.1 256.3 L448.9 258.3 L449.7 260.3 L450.6 262.3 L451.7 264.6 L450.6 267.7 L453 269.6 L451.7 272.4 L449.3 274.4 L448.8 276.8 L447.1 278.2 L445.1 279.3 L446.8 280.9 L447.6 283 L448.1 285.3 L450.8 285.4 L453.4 285.6 L455.4 287.7 L457.5 289.4 L459.1 291.4 L460.2 293.8 L461.2 296.3 L462.6 298.6 L465.4 297.6 L468.3 297.1 L471.1 298.6 L473.2 296.8 L476 297.1 L478.4 296.2 L480.3 297.5 L481 300 L483.2 301 L482.5 303.4 L484.1 305.5 L485.5 307.6 L484.4 310 L483.4 312.4 L484 315 L482.4 317.2 L482.7 320.1 L481.1 322.3 L481.5 325.2 L480 327.5 L480.5 330.1 L482.2 331.5 L483.8 333 L486 334 L487.9 336.4 L491 336 M491 336 L493.8 336.3 L495.9 334.6 L498.3 333.8 L500.7 333.3 L502.5 331 L504.8 329.5 L507.6 330.1 L510 329 L512.2 330.9 L514.8 331.2 L517.5 330.7 L520 331 L522.3 329.4 L524.9 329.7 L527.8 331.1 L530 329 L531.6 326.6 L534.2 326 L537.5 326.6 L539 324 L540.9 325.4 L543.1 326.2 L544.7 328 L546 330 L548.9 330.3 L550.4 327.5 L552.8 326.8 L555.4 326.4 L557.5 325 L560.2 326.4 L563.2 325.6 L566 326 L568.6 325.7 L569.9 328.2 L572.7 327.6 L574 330 L575.9 332.8 L575 336 L577.4 334.8 L580 336.3 L582.5 334.8 L585 336 L587.4 334 L590 335 L592.7 334.1 L595.2 334.1 L597.4 336.8 L599.8 337.7 L602.6 335.9 L605.1 336.4 L607.7 336 L610 338 L612.6 338 L614.9 336.3 L617.3 335.3 L620.1 336.5 L622.6 335.8 L625 335 L627.4 333.5 L629.4 331.3 L632.5 331 L635.2 329.9 L637.6 328.2 L640 326.5 L642.7 326.1 L645.4 325.1 L648.3 327.6 L651 326 M491 336 L490.2 338.9 L487.2 339.9 L486 342.5 L484.7 344.8 L484.3 347.5 L484.3 350.3 L482.5 352.5 L483.8 354.6 L485.7 355.9 L488.1 356.3 L490 357.5 L491.9 358.8 L494.2 359.3 L496.6 359.8 L497.5 362.5 L497.2 365.1 L496 367.5 L498.2 368.4 L500.9 367.3 L502.5 370.3 L505 370 L505.7 372.6 L505.5 375.1 L506 377.6 L502.5 379.9 L504 382.5 L502.2 384.7 L500.8 387 L500.6 389.9 L500 392.5 L501 395 M501 395 L498.4 394.1 L497.1 397.4 L495.1 398.4 L492.5 397.5 L490.2 399.6 L492.3 402.8 L491.9 405.3 L490 407.5 L487.9 409.3 L487.1 412 L484 412.9 L484 416.4 L480.4 416.9 L480 420 L478.6 422.3 L476 423.5 L473.3 424.6 L472.1 427.1 L469.6 428.4 L468.2 430.7 L468 434.2 L465 435 L462.3 435.6 L461.1 438 L459.8 440.4 L458.2 442.3 L454.8 442.2 L453.6 444.5 L450.9 445.2 L450 448 L447.3 448.7 L444.8 449.6 L443.4 452.1 L441.1 453.2 L439.1 454.8 L437.6 457.3 L435 458 L432.1 457.8 L431 460.8 L428.1 460.6 L425.7 461.2 L424 463.3 L422.7 465.9 L420 466 L417.1 466 L415 468 M254 466 L256.6 467.7 L259.4 468 L262.1 468.1 L265 467 L267.6 465.8 L270 467.7 L272.5 467.3 L275 467.9 L277.5 468 L279.4 465.6 L282 464.4 L285 464 L286.9 462.5 L288.5 460.6 L290.9 460 L292.1 457.4 L295 457.5 L297.7 458.2 L297.8 461.3 L300 462.5 L302.5 462.6 L305 463.3 L307.4 464.4 L310 464 L312.3 462.6 L314.4 460.6 L317.9 461.9 L320 460 L321.9 458.9 L323.7 457.8 L325 456 L326.8 457.6 L328.1 459.9 L331.3 459.5 L332.5 461.9 L335 462.5 L337.5 462.1 L340 462.7 L342.5 463 L345 462.5 L347.7 462.5 L350.3 462.4 L352.5 464.3 L355 465 L357.8 464.7 L360.1 463.3 L362.4 461.8 L365 461 L367.3 462.4 L370.4 462 L372.9 463 L375 465 L377.8 466 L380 468 L382.8 467.4 L383.9 464.1 L386 462.4 L389 462 L391.7 461.5 L393.9 462.1 L395.9 463.7 L397.7 465.4 L400 466 L402.4 467.4 L405.1 466.1 L407.6 466.6 L410.1 466.6 L412.6 467 L415 468 M206 349 L208.1 350.4 L210.3 351.5 L213.2 350.1 L214.7 353.4 L217.5 352.5 L220.1 352.9 L221.2 355.6 L224.3 355.2 L225 358.4 L227.5 359 L230.2 358.3 L232.4 360.7 L234.9 361.2 L237.5 361 L239 363.1 L241.6 363.4 L242.8 365.9 L244.6 367.6 L247.5 367.5 L250.6 367.6 L252.5 370.1 L254.3 372.6 L257.5 372.5 L258.6 374.7 L260.9 375.6 L262.8 376.9 L264 379 L262.1 381.5 L264.7 384.5 L262.1 386.9 L261.5 389.5 L263.5 392.5 L262 395 L262.1 397.6 L261.6 400.1 L260.4 402.5 L260.4 405.1 L258.2 407.2 L259 410 L258.5 413 L261.3 414.8 L260.2 417.9 L263.7 419.5 L264.5 422.1 L264 425 L262 426.8 L260.2 428.6 L258.6 430.6 L256.6 432.4 L255.5 434.7 L255 437.5 L255.4 440.1 L253.4 442.4 L252.3 444.8 L254.7 447.7 L252.9 450 L252.5 452.5 L254 455.1 L254.3 457.8 L253.5 460.6 L253.1 463.4 L254 466 M254 466 L254.1 468.4 L252 470.4 L251.9 472.7 L253.8 475.3 L252.5 477.5 L251.8 480.2 L253 482.6 L255.5 484.7 L253 487.8 L255 490 L256.4 492.3 L256.9 494.8 L257.1 497.4 L257.5 500 L256 501.8 L256.1 504.7 L253.2 505.7 L252.5 508 L249.8 509.2 L248.7 512 L246.1 513.3 L245 516 L244.2 518.1 L243.2 520.2 L244 522.5 L246.1 523.8 L246.7 525.9 L247.5 528 L245.9 530.1 L245.2 532.9 L242.5 534 L241.3 536.7 L242.8 539.1 L245 541.3 L244 544 L241.6 544.4 L239.5 545.7 L237.4 547.1 L235.1 547.9 L232.5 547.5 L231.5 549.7 L231.5 552.5 L229 554 L229.1 556.9 L229.6 559.7 L230 562.5 L228.8 565.1 L225.2 564.9 L224 567.5 L224.7 570.4 L223.6 572.8 L220.7 574.7 L221 577.5 L221.9 580 L221.3 582.5 L221 585 M501 395 L502.8 397 L506 396.6 L508.2 397.9 L510 400 L512.4 401 L515.4 399.8 L517.3 402.8 L520 402.5 L522.2 404.2 L525.5 402.8 L527.3 405.7 L530 406 L532.5 407 L534.8 408.4 L536.9 410.4 L540 410 L541.7 412.8 L545.1 412.4 L547.5 414 L547.7 416.7 L549.2 418.7 L549.9 421.2 L552.5 422.5 L555.4 422.5 L555.7 426.3 L559 425.6 L561.2 426.6 L562.5 429 L564.8 427.9 L567.4 427.3 L569 425 L572 423.4 L572.5 420 L574.6 420.9 L575.6 423.4 L579 422.4 L580 425 L581.8 427.7 L585.3 426.9 L587.4 428.9 L590 430 L593 429.8 L595.6 430.6 L598.1 431.4 L599.9 434.3 L602.5 435 L604.9 436.4 L607 438.5 L609.5 439.8 L612.5 440 L614.5 441.3 L615.5 443.9 L618.8 443.7 L620 446 L621.3 448.3 L624.4 447.8 L625.2 451 L628 451 M628 451 L630.5 450.6 L633 449.9 L635.7 449.8 L637.5 447.5 L639.8 446.1 L642.3 445.3 L645.2 447.5 L647.5 446 L648.8 443.2 L651 441 L653.3 440.4 L655.7 441.7 L657.8 439.3 L660.3 441.6 L662.5 440 L665.3 440.5 L668 441 L670.4 439.9 L672.1 443.1 L674.5 442 L676.9 444 L679.5 445.5 L682 444.6 L683.6 447.6 L686 447 M692.5 314 L692.7 316.6 L691.7 318.6 L689.6 320.1 L688.7 322.4 L689.5 325.1 L689 327.5 L687.2 329.6 L687.5 332 L687.9 334.4 L688.8 336.7 L688 339.2 L688.1 341.4 L686.3 343.5 L688.5 345.9 L687 348 L686.1 350.4 L684.8 352.5 L682 353 L680.7 355.1 L679.2 356.9 L675.6 355.9 L675.2 359.1 L673 360 L672.2 363 L675.7 364.6 L673.9 367.9 L676 370 L676.6 372.4 L676.5 374.9 L677.2 377.2 L679 379.2 L679.7 381.6 L678.8 384.3 L680 386.5 L680.2 389.6 L679.5 392.4 L677 394.5 L677.1 397.3 L678.6 399.5 L680.8 401.4 L680.9 404.2 L682 406.6 L681.8 409.2 L684.7 410.3 L686.1 412.1 L686.3 414.6 L687 416.7 L689 418.2 L689.4 420.6 L691.4 422.1 L691 424.8 L689.7 427.3 L690.2 430 L687.8 431.8 L687.2 434.8 L688.2 436.7 L688.8 438.7 L689 440.9 L688.7 443.3 L685.6 444.3 L686 447 M686 447 L683.4 448.4 L681 450 L679.9 451.6 L678.1 452.4 L677.6 454.8 L679.3 456.6 L682 456.8 L684.2 458.4 L686.6 459.4 L689.2 459.9 L691.4 461.4 L693.5 462.9 L694 466 L697 466.5 L699.9 465.7 L702.3 467.5 L704.4 468.5 L706.8 469.1 L708.4 471.1 L710.4 473.3 L710.2 476.9 L713.2 478.4 L714.9 480.2 L715.3 482.8 L717 484.6 L718 486.8 L718.5 489.6 L720.6 491.6 L721.7 494.1 L724.2 495.4 L725.1 498 L726.5 500.1 L729 500.6 L731 502.7 L733.8 502.6 L735.4 505.1 L737.4 507.4 L738.7 510.1 L738 513 M738 513 L740.3 512.4 L742.3 510.8 L744.2 509.2 L747 510 L749.5 510.1 L751.6 508.2 L754.1 508 L756.5 508.1 L759 508 L760.7 505.7 L763 503.7 L762.6 500.4 L764 498 L765.7 495.5 L765.7 493 L763.1 490.5 L764 488 L765.4 485.7 L768 486 L770.4 486.4 L770.6 489.6 L773 490 L774.7 491.3 L776 493.2 L778.5 493 L781.3 493 L782.6 490.8 L784.3 489.1 L785.3 486.5 L787.2 485 L790 485 L792.6 484.9 L794.5 483.5 L796.8 482.8 L798.7 481.2 L801 480.5 L803.1 479.4 L805 478 L807.8 478 L808.7 474.5 L811.4 474.6 L813.3 472.9 L816.2 473.3 L818.5 472.3 L820 470 L821.7 468.2 L823.5 466.7 L825.9 466.2 L828.1 465.4 L830.8 465.8 L832.5 464 L833.1 461.9 L834.2 460 L837.2 460.8 L840.2 460 L841.5 458 L843.8 457.1 L845.5 455.5 M771.5 298 L771.6 301 L773.5 303.5 L773.4 306.1 L772.4 308.9 L770.4 309.8 L768 309.4 L766 310.5 L764.6 313.1 L762.5 314.8 L759.6 315.3 L758.1 317.3 L755.2 317 L754.3 319.9 L751.7 320.1 L749.3 321.3 L747.6 323.4 L746.1 325.6 L746.7 328.5 L744.8 330.8 L744.5 333.4 L743.7 336 L744.5 338.2 L743.1 340.9 L746.6 342.4 L745.7 345 L744.7 348 L740.7 347.4 L739.8 350.5 L737.6 352 L737.8 354.8 L736.7 357.2 L735.8 359.6 L734.6 362 L735.5 365.2 L739.3 365.5 L740.6 368.3 L742.8 369.7 L743.3 372.4 L744.9 374.2 L745.3 377 L748 378 L749.6 380 L752.5 379.6 L754.8 380.1 L756 383 L757.9 384.5 L761.4 382.6 L762.5 385.7 L765 386 L767.5 387 L769.7 386 L771.9 384.2 L774.4 385.9 L776.8 385.4 L779 384.4 L781 386.3 L780.6 389.3 L782.9 391.1 L784.4 393.2 L784.5 395.9 L785 398.5 L786.5 400.3 L787.3 402.4 L787.6 404.8 L789 406.6 L791.1 408.7 L793.4 410.1 L795.9 411.1 L799 410.6 L801.7 412 L804.1 411.1 L806.4 409.2 L809 409.6 L810.7 411.5 L809.9 414.2 L810.8 416.3 L811 418.6 L812.2 420.7 L814.9 421.2 L816.4 423 L816.6 426.4 L819.3 426.8 L820.7 428.6 L822 430.5 L825.1 430.6 L825.9 433 L827.3 434.8 L828 437.7 L830.4 439.2 L831.2 442 L834.2 443 L835.8 445.2 L835.5 447.8 L836 450.2 L838.4 450.8 L840.4 449.2 L842.6 449 L842.7 451.6 L844.3 453.4 L845.5 455.5 M845.5 455.5 L847.7 453.9 L850 454.2 L852.3 455 L854.5 456.6 L854.5 459.9 L857.2 461.1 L859.2 460.3 L861.5 460.2 L863.2 458.7 L865.8 457 L868.7 458.1 L871.5 459 L874.1 457.5 L876.5 457.8 L878.8 459.4 L881.3 458.1 L882 460.6 L884.9 461 L886.2 462.9 L889.1 461.4 L891.7 464.2 L894.6 463.5 L897.7 462.2 L900.7 463.5 L903.1 464.9 L901.6 467.9 L903.1 469.6 L904.2 472 L906 473.5 L907.6 475.3 L910.4 475.6 L912.2 477.5 L913.3 479.6 L912.8 482.3 L915.5 481.6 L917.2 485 L920 484 M738 513 L737.3 515.2 L736.6 517.4 L735.4 519.5 L736 522 L737.2 524.5 L736.5 527.3 L736.2 530.1 L738 532.5 L738.8 535.1 L742.2 534.7 L742.9 537.4 L745 538.5 L743.2 540.3 L742 542.5 L739.2 543.5 L739 546.5 L737.9 548.7 L737.2 551 L734.6 552.5 L734.6 555.1 L734 557.5 L736.7 556.6 L739.4 556.4 L742.2 556.7 L745 556.5 L747.6 556.6 L748.1 559.5 L750 560.5 L749.2 562.8 L750.3 565.2 L750 567.5 L751.9 569.4 L754 570.4 L756.7 569.9 L759 570.5 L760.7 572.2 L763.6 571.6 L765.7 572.6 L767 575 L767.1 577.7 L770.2 577.9 L771 580 L774 580.1 L775.8 583.3 L778.6 583.8 L781.5 584 L784 582.7 L786.5 583.4 L789 583.1 L791.5 584 L793.8 585.5 L796.1 586.9 L796.5 590 L799.1 591.1 L802.1 591.4 L804.5 593 L806.4 594.8 L808.7 596.3 L809.5 599 L811.5 600.9 L812.5 603.2 L811.7 606 M628 451 L627.2 453.2 L626.2 455.4 L624.6 457.4 L625 460 L625.7 462.6 L627.4 464.3 L630 465 L628.5 467.2 L625.2 467.7 L624.6 470.8 L622.5 472.5 L620.3 474.3 L618.1 476.2 L615 476.2 L612.5 477.5 L613.2 480.2 L612.3 482.7 L611 485 L609.2 486.6 L607.3 488.2 L605.8 490.1 L605 492.5 L606.6 494.9 L607 497.4 L606.6 499.9 L606 502.5 L607.1 504.5 L607.5 506.9 L608.9 508.7 L611 510 L608.7 512 L609 514.9 L607.9 517.3 L607.5 520 L608.7 522.4 L609.1 524.9 L610 527.3 L609.4 530 L610 532.5 L608.7 534.7 L607.8 537 L607.3 539.5 L606.2 541.8 L605 544 L605.9 547 L605 550 L605.9 552.4 L608.1 553.5 L610 555 L608 556.8 L606.6 559 L606.9 562.1 L605 564 L602.8 565.8 L600.1 565.7 L597.2 564.1 L595 566 L592.9 567 L592.6 569.5 L591 571 L588.2 570.1 L585.5 571.5 L582.8 569.8 L580 571 L577.2 571.9 L575.2 569.2 L572.8 567.9 L570 569 L567.9 570 L565.6 570.5 L563.8 572.3 L561.4 572.5 L559 572.5 L557.3 574.9 L554.9 576.3 L553.1 578.6 L550 579 L548.6 581 L547.1 583.1 L544.3 583.4 L542.5 585 L539.9 584 L537.5 582.5 L536.2 584.8 L532.8 584.6 L532.3 587.9 L530 589 L527.4 589.3 L524.6 588.5 L522.1 589.3 L519.4 589 L517 591 M415 468 L416.2 470.1 L417 472.5 L419 474 L417.6 476 L416.6 478.1 L417.9 480.8 L415.1 482.4 L416 485 L415.6 487.5 L414.8 489.9 L414.5 492.4 L413.7 494.9 L415 497.5 L416.7 499.7 L417.4 502.3 L417.3 505.3 L419 507.5 L420.5 509.4 L421.8 511.5 L424.4 512.3 L424.7 515.4 L427.5 516 L430.3 514.9 L432.4 517.7 L435 517.5 L437.2 519.1 L439.9 520.1 L440.2 523.5 L442.5 525 L445.3 524.9 L447 526.6 L448.8 528.1 L451.1 528.8 L452.5 531 L454.8 529.4 L457.5 530 L460.3 529.4 L461.7 532.7 L464.9 531.1 L467.1 532.1 L469 534 L471.9 532.8 L474.4 535.9 L477.2 534.9 L480 535 L479.2 537.4 L478.9 539.7 L480.8 541.7 L481 544 L483 545.1 L484.8 546.5 L486.9 547.6 L488 549.9 L490 551 L492.3 552.9 L495 551.6 L497.4 552.8 L499.8 553.5 L502.5 552.5 L505 553.6 L507.5 553.1 L510 552.5 L511.5 554.8 L514.4 556 L515 559 L513.8 561 L511.1 561.7 L510.6 564.4 L509 566 L507.7 568.1 L508.3 570.8 L506.5 572.7 L506 575 L505.1 577.6 L501.9 578.4 L501 581 L502.7 583.2 L506.3 582.1 L507.5 585.2 L510 586 L513.1 586.5 L513.8 590.6 L517 591 M517 591 L515.8 593.4 L512.4 593.9 L512 597 L509.4 597.4 L509 600 M321 337.5 L323.1 336.3 L325.1 334.8 L327.4 333.9 L330 334 L332.2 332.3 L335.3 333.1 L337.2 330.6 L340 330.5 L342.4 329.8 L345.1 330.5 L347.5 329.6 L350.2 330.6 L352.5 328.8 L355 328.5 L357.5 328.5 L360 329.5 L362.6 328.4 L364.8 331 L367.5 329.5 L370 329.8 L372.5 330.5 L374.7 332.2 L378 331.8 L380 334 L381.6 336.1 L383.2 338.3 L386.4 338.7 L387 342 L390 342.5 L387.9 343.9 L385.4 344.8 L384.1 347.1 L382.2 348.8 L380 350 L382.3 351.5 L384.6 352.9 L385 356 L383.7 358.1 L380.3 357.1 L379.3 359.7 L377.5 361 L375 360.9 L372.6 359.2 L370 360 L367.6 358.6 L365 360 L362.7 361.7 L360.4 363.4 L356.9 362.5 L355 365 L352.8 366.7 L349.8 365.3 L347.4 366.6 L345 367.5 L343 369.4 L342.8 371.6 L344 374 L341.4 373 L338.4 374.5 L336 372.5 L334.1 369.9 L335.2 366.8 L335 364 L334.2 361.2 L330.5 360.5 L330 357.5 L328.5 355.5 L326.3 354 L325.7 351.5 L325 349 L323.7 346.6 L325.1 344.6 L326 342.5 L324.4 340.8 L321.9 339.9Z" fill="none" stroke="#000" stroke-width="3.7" stroke-linejoin="round" stroke-linecap="round" shape-rendering="crispEdges"/>
</g>
<g id="pies" shape-rendering="crispEdges">
<path d="M253 215.8 L253.00 169.00 A46.8 46.8 0 0 1 261.85 261.76 Z" fill="#2aa5fb"/><path d="M253 215.8 L261.85 261.76 A46.8 46.8 0 0 1 257.00 262.43 Z" fill="#9a5fd4"/><path d="M253 215.8 L257.00 262.43 A46.8 46.8 0 0 1 207.40 226.33 Z" fill="#e96c74"/><path d="M253 215.8 L207.40 226.33 A46.8 46.8 0 0 1 206.42 211.31 Z" fill="#f7a128"/><path d="M253 215.8 L206.42 211.31 A46.8 46.8 0 0 1 233.52 173.25 Z" fill="#7cb82d"/><path d="M253 215.8 L233.52 173.25 A46.8 46.8 0 0 1 253.00 169.00 Z" fill="#c8c8c8"/>
<path d="M358 273 L358.00 211.00 A62 62 0 1 1 348.41 334.25 Z" fill="#2aa5fb"/><path d="M358 273 L348.41 334.25 A62 62 0 0 1 343.84 333.36 Z" fill="#9a5fd4"/><path d="M358 273 L343.84 333.36 A62 62 0 0 1 296.53 281.09 Z" fill="#e96c74"/><path d="M358 273 L296.53 281.09 A62 62 0 0 1 297.66 258.74 Z" fill="#f7a128"/><path d="M358 273 L297.66 258.74 A62 62 0 0 1 338.22 214.24 Z" fill="#7cb82d"/><path d="M358 273 L338.22 214.24 A62 62 0 0 1 358.00 211.00 Z" fill="#c8c8c8"/>
<path d="M442 178 L442.00 145.40 A32.6 32.6 0 0 1 448.28 209.99 Z" fill="#2aa5fb"/><path d="M442 178 L448.28 209.99 A32.6 32.6 0 0 1 445.24 210.44 Z" fill="#9a5fd4"/><path d="M442 178 L445.24 210.44 A32.6 32.6 0 0 1 410.33 185.72 Z" fill="#e96c74"/><path d="M442 178 L410.33 185.72 A32.6 32.6 0 0 1 410.07 171.44 Z" fill="#f7a128"/><path d="M442 178 L410.07 171.44 A32.6 32.6 0 0 1 432.63 146.77 Z" fill="#7cb82d"/><path d="M442 178 L432.63 146.77 A32.6 32.6 0 0 1 442.00 145.40 Z" fill="#c8c8c8"/>
<path d="M545.5 258.5 L545.50 221.20 A37.3 37.3 0 0 1 550.05 295.52 Z" fill="#2aa5fb"/><path d="M545.5 258.5 L550.05 295.52 A37.3 37.3 0 0 1 547.00 295.77 Z" fill="#9a5fd4"/><path d="M545.5 258.5 L547.00 295.77 A37.3 37.3 0 0 1 508.42 262.53 Z" fill="#e96c74"/><path d="M545.5 258.5 L508.42 262.53 A37.3 37.3 0 0 1 509.54 248.59 Z" fill="#f7a128"/><path d="M545.5 258.5 L509.54 248.59 A37.3 37.3 0 0 1 536.10 222.40 Z" fill="#7cb82d"/><path d="M545.5 258.5 L536.10 222.40 A37.3 37.3 0 0 1 545.50 221.20 Z" fill="#c8c8c8"/>
<path d="M105.8 306.5 L105.80 279.90 A26.6 26.6 0 0 1 107.66 333.04 Z" fill="#2aa5fb"/><path d="M105.8 306.5 L107.66 333.04 A26.6 26.6 0 0 1 105.10 333.09 Z" fill="#9a5fd4"/><path d="M105.8 306.5 L105.10 333.09 A26.6 26.6 0 0 1 79.20 306.96 Z" fill="#e96c74"/><path d="M105.8 306.5 L79.20 306.96 A26.6 26.6 0 0 1 80.46 298.41 Z" fill="#f7a128"/><path d="M105.8 306.5 L80.46 298.41 A26.6 26.6 0 0 1 98.16 281.02 Z" fill="#7cb82d"/><path d="M105.8 306.5 L98.16 281.02 A26.6 26.6 0 0 1 105.80 279.90 Z" fill="#c8c8c8"/>
<path d="M173 427.8 L173.00 388.60 A39.2 39.2 0 0 1 173.68 466.99 Z" fill="#2aa5fb"/><path d="M173 427.8 L173.68 466.99 A39.2 39.2 0 0 1 172.32 466.99 Z" fill="#9a5fd4"/><path d="M173 427.8 L172.32 466.99 A39.2 39.2 0 0 1 133.81 428.48 Z" fill="#e96c74"/><path d="M173 427.8 L133.81 428.48 A39.2 39.2 0 0 1 136.14 414.46 Z" fill="#f7a128"/><path d="M173 427.8 L136.14 414.46 A39.2 39.2 0 0 1 163.85 389.68 Z" fill="#7cb82d"/><path d="M173 427.8 L163.85 389.68 A39.2 39.2 0 0 1 173.00 388.60 Z" fill="#c8c8c8"/>
<path d="M426.5 410.5 L426.50 346.90 A63.6 63.6 0 1 1 425.72 474.10 Z" fill="#2aa5fb"/><path d="M426.5 410.5 L425.72 474.10 A63.6 63.6 0 0 1 425.17 474.09 Z" fill="#9a5fd4"/><path d="M426.5 410.5 L425.17 474.09 A63.6 63.6 0 0 1 364.93 426.42 Z" fill="#e96c74"/><path d="M426.5 410.5 L364.93 426.42 A63.6 63.6 0 0 1 363.52 401.65 Z" fill="#f7a128"/><path d="M426.5 410.5 L363.52 401.65 A63.6 63.6 0 0 1 409.61 349.18 Z" fill="#7cb82d"/><path d="M426.5 410.5 L409.61 349.18 A63.6 63.6 0 0 1 426.50 346.90 Z" fill="#c8c8c8"/>
<path d="M605.2 359.3 L605.20 323.00 A36.3 36.3 0 0 1 607.23 395.54 Z" fill="#2aa5fb"/><path d="M605.2 359.3 L607.23 395.54 A36.3 36.3 0 0 1 605.64 395.60 Z" fill="#9a5fd4"/><path d="M605.2 359.3 L605.64 395.60 A36.3 36.3 0 0 1 569.10 363.09 Z" fill="#e96c74"/><path d="M605.2 359.3 L569.10 363.09 A36.3 36.3 0 0 1 570.49 348.69 Z" fill="#f7a128"/><path d="M605.2 359.3 L570.49 348.69 A36.3 36.3 0 0 1 597.03 323.93 Z" fill="#7cb82d"/><path d="M605.2 359.3 L597.03 323.93 A36.3 36.3 0 0 1 605.20 323.00 Z" fill="#c8c8c8"/>
<path d="M534.3 466.5 L534.30 430.50 A36 36 0 0 1 536.56 502.43 Z" fill="#2aa5fb"/><path d="M534.3 466.5 L536.56 502.43 A36 36 0 0 1 534.30 502.50 Z" fill="#9a5fd4"/><path d="M534.3 466.5 L534.30 502.50 A36 36 0 0 1 498.31 467.25 Z" fill="#e96c74"/><path d="M534.3 466.5 L498.31 467.25 A36 36 0 0 1 500.32 454.60 Z" fill="#f7a128"/><path d="M534.3 466.5 L500.32 454.60 A36 36 0 0 1 527.25 431.20 Z" fill="#7cb82d"/><path d="M534.3 466.5 L527.25 431.20 A36 36 0 0 1 534.30 430.50 Z" fill="#c8c8c8"/>
<path d="M744.6 409.5 L744.60 368.50 A41 41 0 0 1 752.63 449.71 Z" fill="#2aa5fb"/><path d="M744.6 409.5 L752.63 449.71 A41 41 0 0 1 750.09 450.13 Z" fill="#9a5fd4"/><path d="M744.6 409.5 L750.09 450.13 A41 41 0 0 1 703.90 414.43 Z" fill="#e96c74"/><path d="M744.6 409.5 L703.90 414.43 A41 41 0 0 1 705.23 398.06 Z" fill="#f7a128"/><path d="M744.6 409.5 L705.23 398.06 A41 41 0 0 1 733.09 370.15 Z" fill="#7cb82d"/><path d="M744.6 409.5 L733.09 370.15 A41 41 0 0 1 744.60 368.50 Z" fill="#c8c8c8"/>
<path d="M873.5 356.2 L873.50 297.60 A58.6 58.6 0 0 1 883.07 414.01 Z" fill="#2aa5fb"/><path d="M873.5 356.2 L883.07 414.01 A58.6 58.6 0 0 1 876.98 414.70 Z" fill="#9a5fd4"/><path d="M873.5 356.2 L876.98 414.70 A58.6 58.6 0 0 1 815.39 363.75 Z" fill="#e96c74"/><path d="M873.5 356.2 L815.39 363.75 A58.6 58.6 0 0 1 816.90 341.03 Z" fill="#f7a128"/><path d="M873.5 356.2 L816.90 341.03 A58.6 58.6 0 0 1 856.37 300.16 Z" fill="#7cb82d"/><path d="M873.5 356.2 L856.37 300.16 A58.6 58.6 0 0 1 873.50 297.60 Z" fill="#c8c8c8"/>
<path d="M817 501 L817.00 462.00 A39 39 0 0 1 820.53 539.84 Z" fill="#2aa5fb"/><path d="M817 501 L820.53 539.84 A39 39 0 0 1 819.38 539.93 Z" fill="#9a5fd4"/><path d="M817 501 L819.38 539.93 A39 39 0 0 1 778.21 505.01 Z" fill="#e96c74"/><path d="M817 501 L778.21 505.01 A39 39 0 0 1 779.47 490.38 Z" fill="#f7a128"/><path d="M817 501 L779.47 490.38 A39 39 0 0 1 806.84 463.35 Z" fill="#7cb82d"/><path d="M817 501 L806.84 463.35 A39 39 0 0 1 817.00 462.00 Z" fill="#c8c8c8"/>
<path d="M342 547 L342.00 505.70 A41.3 41.3 0 0 1 345.02 588.19 Z" fill="#2aa5fb"/><path d="M342 547 L345.02 588.19 A41.3 41.3 0 0 1 343.80 588.26 Z" fill="#9a5fd4"/><path d="M342 547 L343.80 588.26 A41.3 41.3 0 0 1 301.34 554.24 Z" fill="#e96c74"/><path d="M342 547 L301.34 554.24 A41.3 41.3 0 0 1 301.76 537.71 Z" fill="#f7a128"/><path d="M342 547 L301.76 537.71 A41.3 41.3 0 0 1 330.34 507.38 Z" fill="#7cb82d"/><path d="M342 547 L330.34 507.38 A41.3 41.3 0 0 1 342.00 505.70 Z" fill="#c8c8c8"/>
<path d="M667 515.4 L667.00 457.20 A58.2 58.2 0 0 1 671.26 573.44 Z" fill="#2aa5fb"/><path d="M667 515.4 L671.26 573.44 A58.2 58.2 0 0 1 667.00 573.60 Z" fill="#9a5fd4"/><path d="M667 515.4 L667.00 573.60 A58.2 58.2 0 0 1 609.40 523.70 Z" fill="#e96c74"/><path d="M667 515.4 L609.40 523.70 A58.2 58.2 0 0 1 610.97 499.65 Z" fill="#f7a128"/><path d="M667 515.4 L610.97 499.65 A58.2 58.2 0 0 1 651.94 459.18 Z" fill="#7cb82d"/><path d="M667 515.4 L651.94 459.18 A58.2 58.2 0 0 1 667.00 457.20 Z" fill="#c8c8c8"/>
<path d="M659 148 L659.00 113.00 A35 35 0 0 1 689.31 130.50 Z" fill="#2aa5fb"/><path d="M659 148 L689.31 130.50 A35 35 0 0 1 689.31 165.50 Z" fill="#9a5fd4"/><path d="M659 148 L689.31 165.50 A35 35 0 0 1 659.00 183.00 Z" fill="#e96c74"/><path d="M659 148 L659.00 183.00 A35 35 0 0 1 628.69 165.50 Z" fill="#f7a128"/><path d="M659 148 L628.69 165.50 A35 35 0 0 1 628.69 130.50 Z" fill="#7cb82d"/><path d="M659 148 L628.69 130.50 A35 35 0 0 1 659.00 113.00 Z" fill="#c8c8c8"/>
</g>
<g class="lab">
<text class="h" x="251.7" y="279.5">ULK</text><text x="251.2" y="278.9">ULK</text>
<text class="h" x="440.1" y="227.5">LBK</text><text x="439.6" y="226.9">LBK</text>
<text class="h" x="548.1" y="316.5">HKK</text><text x="547.6" y="315.9">HKK</text>
<text class="h" x="109.7" y="349.5">KVK</text><text x="109.2" y="348.9">KVK</text>
<text class="h" x="357.1" y="354.5">PHA</text><text x="356.6" y="353.9">PHA</text>
<text class="h" x="341.7" y="421.5">STČ</text><text x="341.2" y="420.9">STČ</text>
<text class="h" x="605.7" y="416.5">PAK</text><text x="605.2" y="415.9">PAK</text>
<text class="h" x="173.9" y="485.5">PLK</text><text x="173.4" y="484.9">PLK</text>
<text class="h" x="533.7" y="523.5">VYS</text><text x="533.2" y="522.9">VYS</text>
<text class="h" x="747.1" y="467.5">OLK</text><text x="746.6" y="466.9">OLK</text>
<text class="h" x="878.8" y="432.5">MSK</text><text x="878.3" y="431.9">MSK</text>
<text class="h" x="821.6" y="559.5">ZLK</text><text x="821.1" y="558.9">ZLK</text>
<text class="h" x="341.1" y="607.5">JHČ</text><text x="340.6" y="606.9">JHČ</text>
<text class="h" x="669.1" y="594.5">JHM</text><text x="668.6" y="593.9">JHM</text>
</g>
<!-- legend connector lines -->
<path d="M688.1 127 L712 77.5 M687.4 168.4 L712 216.5" stroke="#666" stroke-width="1" fill="none"/>
<!-- legend swatches -->
<rect x="712" y="77" width="37" height="19" fill="#47ade8"/>
<rect x="712" y="99.4" width="37" height="18.4" fill="#9b59d0"/>
<rect x="712" y="122.2" width="37" height="18.4" fill="#e96a72"/>
<rect x="712" y="145.2" width="37" height="18.7" fill="#f7a028"/>
<rect x="712" y="175" width="37" height="19" fill="#7cba2c"/>
<rect x="712" y="204.3" width="37" height="18.4" fill="#c8c8c8"/>
<!-- size circles -->
<circle cx="94.7" cy="153.4" r="64.1" fill="none" stroke="#000" stroke-width="1"/>
<circle cx="94" cy="190.9" r="26.6" fill="none" stroke="#000" stroke-width="1"/>
<!-- colour bar -->
<g stroke="#707070" stroke-width="1.1">
<rect x="30.5" y="693.4" width="46" height="17" fill="#e6fdf5"/>
<rect x="76.5" y="693.4" width="46" height="17" fill="#70eac6"/>
<rect x="122.5" y="693.4" width="45.8" height="17" fill="#00d9a3"/>
<rect x="168.3" y="693.4" width="45.5" height="17" fill="#00a878"/>
<rect x="213.8" y="693.4" width="45.5" height="17" fill="#007550"/>
</g>
<!-- boundary symbol -->
<path d="M321.5 705.9 L330.2 695.4 L344.8 717.4 L357.7 704.2" fill="none" stroke="#000" stroke-width="2.6" stroke-linejoin="miter"/>
<!-- scale bar -->
<rect x="445" y="657.5" width="198.8" height="7" fill="#000"/>
<rect x="471" y="659" width="23" height="4" fill="#fff"/>
<rect x="545" y="659" width="47" height="4" fill="#fff"/>
<g font-size="9.5" text-anchor="middle" fill="#000">
<text x="445.7" y="677">0</text><text x="494" y="677">25</text><text x="543" y="677">50</text><text x="592.5" y="677">75</text><text x="651" y="677">100 km</text>
</g>
<!-- compass -->
<g>
<path d="M60.5 527.4 L65.4 546.7 L84.1 551.6 L65.4 557 L60.5 576.4 L55.7 557 L37.5 551.6 L55.7 546.7 Z" fill="#fff" stroke="#bbb" stroke-width="0.5"/>
<path d="M60.5 527.4 L65.4 546.7 L60.7 551.6 Z M84.1 551.6 L65.4 557 L60.7 551.6 Z M60.5 576.4 L55.7 557 L60.7 551.6 Z M37.5 551.6 L55.7 546.7 L60.7 551.6 Z" fill="#000"/>
<g font-size="9" text-anchor="middle" fill="#000">
<text x="61" y="525.8" font-weight="bold">S</text><text x="60.5" y="584.8">J</text><text x="33" y="555">Z</text><text x="91.5" y="555">V</text>
</g>
</g>
</svg>
<div class="t" style="left:30.3px;top:7.35px;font-size:20.8px;font-weight:bold;">10. Ekonomická aktivita obyvatelstva v roce 2020</div>
<div class="t" style="left:66px;top:31.3px;font-size:20.8px;font-style:italic;">Participation rate of the population in 2020</div>
<div class="t" style="left:30.3px;top:72.7px;font-size:16px;">Obyvatelstvo (tis.) / <i>Population (thous.)</i></div>
<div class="t" style="left:164.6px;top:95.2px;font-size:16.5px;">max = 1 386,3</div>
<div class="t" style="left:164.6px;top:147.1px;font-size:16.5px;">min = 294,5</div>

<div class="t lg" style="left:754px;top:76.7px;font-size:16px;">Zaměstnaní / <i>The employed</i></div>
<div class="t lg" style="left:754px;top:101.4px;font-size:16px;">Nezaměstnaní / <i>The unemployed</i></div>
<div class="t lg" style="left:754px;top:123.7px;font-size:16px;">Důchodci / <i>Pensioners</i></div>
<div class="t lg" style="left:754px;top:147.2px;font-size:16px;">Studenti / <i>Students</i></div>
<div class="t lg" style="left:754px;top:169.2px;font-size:16px;">Děti do 15 let</div>
<div class="t lg" style="left:754px;top:186.5px;font-size:16px;"><i>Children aged under 15 years</i></div>
<div class="t lg" style="left:754px;top:206.2px;font-size:16px;">Ostatní / <i>other</i></div>

<div class="t" style="left:30.4px;top:610.8px;font-size:16px;">Podíl zaměstnaných</div>
<div class="t" style="left:30.4px;top:630.1px;font-size:16px;">z obyvatel ve věku 15–64 let (%)</div>
<div class="t" style="left:30.4px;top:649.1px;font-size:16px;font-style:italic;">Percentage of the employed</div>
<div class="t" style="left:30.4px;top:668.1px;font-size:16px;font-style:italic;">in the population aged 15–64 years</div>
<div class="t" style="left:56.3px;top:719.1px;font-size:16px;width:40px;text-align:center;transform:scaleX(0.93);">75,0</div>
<div class="t" style="left:102.3px;top:719.1px;font-size:16px;width:40px;text-align:center;transform:scaleX(0.93);">76,0</div>
<div class="t" style="left:148.2px;top:719.1px;font-size:16px;width:40px;text-align:center;transform:scaleX(0.93);">77,0</div>
<div class="t" style="left:193.9px;top:719.1px;font-size:16px;width:40px;text-align:center;transform:scaleX(0.93);">78,0</div>

<div class="t" style="left:366px;top:697px;font-size:16.6px;">hranice kraje / <i>boundary of a Region</i></div>
<div class="t" style="left:667px;top:699px;font-size:16.13px;">Zdroj: ČSÚ, Výběrové šetření pracovních sil</div>
<div class="t" style="left:667px;top:717.2px;font-size:16.2px;font-style:italic;">Source: CZSO, Labour Force Sample Survey</div>
</body></html>
